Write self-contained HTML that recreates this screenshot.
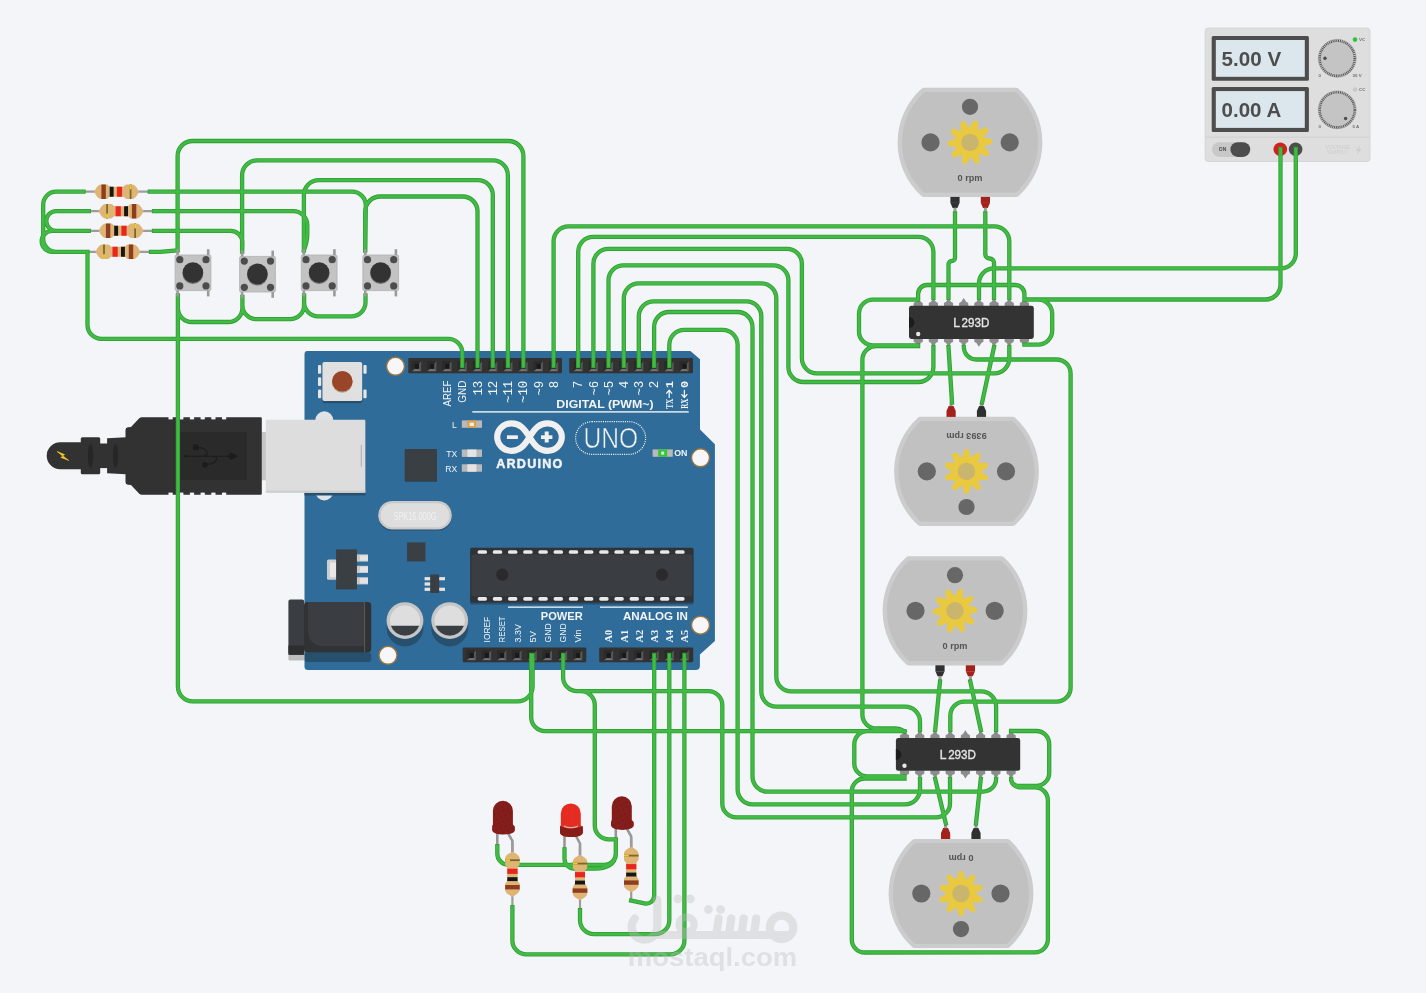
<!DOCTYPE html>
<html><head><meta charset="utf-8"><title>Circuit</title>
<style>
html,body{margin:0;padding:0;background:#f3f5f8;}
body{width:1426px;height:993px;overflow:hidden;font-family:"Liberation Sans",sans-serif;}
svg{display:block;font-family:"Liberation Sans",sans-serif;will-change:transform;}
</style></head><body>
<svg width="1426" height="993" viewBox="0 0 1426 993">
<rect width="1426" height="993" fill="#f3f5f8"/>
<g transform="translate(116.60 191.70) rotate(0.0)"><line x1="-32.5" y1="0" x2="32.5" y2="0" stroke="#9c9c9c" stroke-width="2.2"/><clipPath id="rc0"><path d="M-22.5 0 C-21.2 -2 -19.2 -7.2 -15.4 -7.2 L-10 -7.2 C-8.2 -7.2 -8.2 -5 -6.2 -5 L6.2 -5 C8.2 -5 8.2 -7.2 10 -7.2 L15.4 -7.2 C19.2 -7.2 21.2 -2 22.5 0 C21.2 2 19.2 7.2 15.4 7.2 L10 7.2 C8.2 7.2 8.2 5 6.2 5 L-6.2 5 C-8.2 5 -8.2 7.2 -10 7.2 L-15.4 7.2 C-19.2 7.2 -21.2 2 -22.5 0Z"/></clipPath><path d="M-22.5 0 C-21.2 -2 -19.2 -7.2 -15.4 -7.2 L-10 -7.2 C-8.2 -7.2 -8.2 -5 -6.2 -5 L6.2 -5 C8.2 -5 8.2 -7.2 10 -7.2 L15.4 -7.2 C19.2 -7.2 21.2 -2 22.5 0 C21.2 2 19.2 7.2 15.4 7.2 L10 7.2 C8.2 7.2 8.2 5 6.2 5 L-6.2 5 C-8.2 5 -8.2 7.2 -10 7.2 L-15.4 7.2 C-19.2 7.2 -21.2 2 -22.5 0Z" fill="#deb577"/><g clip-path="url(#rc0)"><rect x="-15.2" y="-8" width="4.4" height="16" fill="#8e3e1f"/><rect x="-6.9" y="-8" width="3.9" height="16" fill="#161616"/><rect x="0.3" y="-8" width="5.2" height="16" fill="#e8261d"/><rect x="13.1" y="-8" width="1.8" height="16" fill="#7d6a1e"/><rect x="13.1" y="-7.2" width="1.8" height="4.8" fill="#e8d030"/></g></g>
<g transform="translate(121.10 211.20) rotate(180.0)"><line x1="-32.5" y1="0" x2="32.5" y2="0" stroke="#9c9c9c" stroke-width="2.2"/><clipPath id="rc1"><path d="M-22.5 0 C-21.2 -2 -19.2 -7.2 -15.4 -7.2 L-10 -7.2 C-8.2 -7.2 -8.2 -5 -6.2 -5 L6.2 -5 C8.2 -5 8.2 -7.2 10 -7.2 L15.4 -7.2 C19.2 -7.2 21.2 -2 22.5 0 C21.2 2 19.2 7.2 15.4 7.2 L10 7.2 C8.2 7.2 8.2 5 6.2 5 L-6.2 5 C-8.2 5 -8.2 7.2 -10 7.2 L-15.4 7.2 C-19.2 7.2 -21.2 2 -22.5 0Z"/></clipPath><path d="M-22.5 0 C-21.2 -2 -19.2 -7.2 -15.4 -7.2 L-10 -7.2 C-8.2 -7.2 -8.2 -5 -6.2 -5 L6.2 -5 C8.2 -5 8.2 -7.2 10 -7.2 L15.4 -7.2 C19.2 -7.2 21.2 -2 22.5 0 C21.2 2 19.2 7.2 15.4 7.2 L10 7.2 C8.2 7.2 8.2 5 6.2 5 L-6.2 5 C-8.2 5 -8.2 7.2 -10 7.2 L-15.4 7.2 C-19.2 7.2 -21.2 2 -22.5 0Z" fill="#deb577"/><g clip-path="url(#rc1)"><rect x="-15.2" y="-8" width="4.4" height="16" fill="#8e3e1f"/><rect x="-6.9" y="-8" width="3.9" height="16" fill="#161616"/><rect x="0.3" y="-8" width="5.2" height="16" fill="#e8261d"/><rect x="13.1" y="-8" width="1.8" height="16" fill="#7d6a1e"/><rect x="13.1" y="-7.2" width="1.8" height="4.8" fill="#e8d030"/></g></g>
<g transform="translate(121.10 230.80) rotate(0.0)"><line x1="-32.5" y1="0" x2="32.5" y2="0" stroke="#9c9c9c" stroke-width="2.2"/><clipPath id="rc2"><path d="M-22.5 0 C-21.2 -2 -19.2 -7.2 -15.4 -7.2 L-10 -7.2 C-8.2 -7.2 -8.2 -5 -6.2 -5 L6.2 -5 C8.2 -5 8.2 -7.2 10 -7.2 L15.4 -7.2 C19.2 -7.2 21.2 -2 22.5 0 C21.2 2 19.2 7.2 15.4 7.2 L10 7.2 C8.2 7.2 8.2 5 6.2 5 L-6.2 5 C-8.2 5 -8.2 7.2 -10 7.2 L-15.4 7.2 C-19.2 7.2 -21.2 2 -22.5 0Z"/></clipPath><path d="M-22.5 0 C-21.2 -2 -19.2 -7.2 -15.4 -7.2 L-10 -7.2 C-8.2 -7.2 -8.2 -5 -6.2 -5 L6.2 -5 C8.2 -5 8.2 -7.2 10 -7.2 L15.4 -7.2 C19.2 -7.2 21.2 -2 22.5 0 C21.2 2 19.2 7.2 15.4 7.2 L10 7.2 C8.2 7.2 8.2 5 6.2 5 L-6.2 5 C-8.2 5 -8.2 7.2 -10 7.2 L-15.4 7.2 C-19.2 7.2 -21.2 2 -22.5 0Z" fill="#deb577"/><g clip-path="url(#rc2)"><rect x="-15.2" y="-8" width="4.4" height="16" fill="#8e3e1f"/><rect x="-6.9" y="-8" width="3.9" height="16" fill="#161616"/><rect x="0.3" y="-8" width="5.2" height="16" fill="#e8261d"/><rect x="13.1" y="-8" width="1.8" height="16" fill="#7d6a1e"/><rect x="13.1" y="-7.2" width="1.8" height="4.8" fill="#e8d030"/></g></g>
<g transform="translate(118.00 251.80) rotate(180.0)"><line x1="-32.5" y1="0" x2="32.5" y2="0" stroke="#9c9c9c" stroke-width="2.2"/><clipPath id="rc3"><path d="M-22.5 0 C-21.2 -2 -19.2 -7.2 -15.4 -7.2 L-10 -7.2 C-8.2 -7.2 -8.2 -5 -6.2 -5 L6.2 -5 C8.2 -5 8.2 -7.2 10 -7.2 L15.4 -7.2 C19.2 -7.2 21.2 -2 22.5 0 C21.2 2 19.2 7.2 15.4 7.2 L10 7.2 C8.2 7.2 8.2 5 6.2 5 L-6.2 5 C-8.2 5 -8.2 7.2 -10 7.2 L-15.4 7.2 C-19.2 7.2 -21.2 2 -22.5 0Z"/></clipPath><path d="M-22.5 0 C-21.2 -2 -19.2 -7.2 -15.4 -7.2 L-10 -7.2 C-8.2 -7.2 -8.2 -5 -6.2 -5 L6.2 -5 C8.2 -5 8.2 -7.2 10 -7.2 L15.4 -7.2 C19.2 -7.2 21.2 -2 22.5 0 C21.2 2 19.2 7.2 15.4 7.2 L10 7.2 C8.2 7.2 8.2 5 6.2 5 L-6.2 5 C-8.2 5 -8.2 7.2 -10 7.2 L-15.4 7.2 C-19.2 7.2 -21.2 2 -22.5 0Z" fill="#deb577"/><g clip-path="url(#rc3)"><rect x="-15.2" y="-8" width="4.4" height="16" fill="#8e3e1f"/><rect x="-6.9" y="-8" width="3.9" height="16" fill="#161616"/><rect x="0.3" y="-8" width="5.2" height="16" fill="#e8261d"/><rect x="13.1" y="-8" width="1.8" height="16" fill="#7d6a1e"/><rect x="13.1" y="-7.2" width="1.8" height="4.8" fill="#e8d030"/></g></g>
<path d="M307 351 L690.4 351 L700 359.3 L700 429.4 L714.9 444.3 L714.9 641 L699.9 654.5 L699.9 666 Q699.9 670 695.5 670 L308 670 Q304.5 670 304.5 666.5 L304.5 354.5 Q304.5 351 307 351Z" fill="#2f6c99"/><circle cx="324.3" cy="420.3" r="9" fill="#dfe3e6"/><circle cx="324.3" cy="491.5" r="9" fill="#dfe3e6"/><rect x="304.5" y="421" width="60.9" height="74.5" fill="#27506f"/><rect x="261.8" y="432" width="5" height="48.3" fill="#c6c6c6"/><rect x="265.8" y="419.8" width="99.6" height="72.9" rx="1.2" fill="#dddddd"/><rect x="265.8" y="490.5" width="99.6" height="2.2" fill="#cfcfcf"/><line x1="361.3" y1="445" x2="361.3" y2="466.5" stroke="#9a9a9a" stroke-width="0.7"/><rect x="322.4" y="364.5" width="39.8" height="38.8" rx="2" fill="#27506f"/><rect x="318" y="364.9" width="3.2" height="8.8" rx="1" fill="#e6e6e6"/><rect x="318" y="377.2" width="3.2" height="8.8" rx="1" fill="#e6e6e6"/><rect x="318" y="389.4" width="3.2" height="8.8" rx="1" fill="#e6e6e6"/><rect x="363.4" y="364.9" width="3.2" height="8.8" rx="1" fill="#e6e6e6"/><rect x="363.4" y="389.4" width="3.2" height="8.8" rx="1" fill="#e6e6e6"/><rect x="322.4" y="361.9" width="39.8" height="39" rx="2" fill="#e0e0e0"/><circle cx="342.3" cy="382.4" r="10.3" fill="#b9a08a"/><circle cx="342.3" cy="381.2" r="10.3" fill="#99452a"/><circle cx="395.50" cy="366.30" r="9" fill="#f7f7f9" stroke="#9a7440" stroke-width="1.4"/><circle cx="700.50" cy="457.80" r="9" fill="#f7f7f9" stroke="#9a7440" stroke-width="1.4"/><circle cx="700.50" cy="625.20" r="9" fill="#f7f7f9" stroke="#9a7440" stroke-width="1.4"/><circle cx="388.00" cy="655.30" r="9" fill="#f7f7f9" stroke="#9a7440" stroke-width="1.4"/><rect x="408.30" y="358.10" width="153.70" height="15.20" rx="1.2" fill="#323232"/><rect x="411.90" y="361.00" width="9.30" height="10.20" fill="#2a2a2a"/><path d="M421.20 361.00 L421.20 371.20 L418.90 368.80 L418.90 363.90 Z" fill="#565858"/><path d="M411.90 371.20 L421.20 371.20 L418.90 368.80 L414.90 368.80 Z" fill="#6f7070"/><rect x="414.90" y="363.90" width="4" height="4.9" fill="#191919"/><rect x="427.12" y="361.00" width="9.30" height="10.20" fill="#2a2a2a"/><path d="M436.42 361.00 L436.42 371.20 L434.12 368.80 L434.12 363.90 Z" fill="#565858"/><path d="M427.12 371.20 L436.42 371.20 L434.12 368.80 L430.12 368.80 Z" fill="#6f7070"/><rect x="430.12" y="363.90" width="4" height="4.9" fill="#191919"/><rect x="442.34" y="361.00" width="9.30" height="10.20" fill="#2a2a2a"/><path d="M451.64 361.00 L451.64 371.20 L449.34 368.80 L449.34 363.90 Z" fill="#565858"/><path d="M442.34 371.20 L451.64 371.20 L449.34 368.80 L445.34 368.80 Z" fill="#6f7070"/><rect x="445.34" y="363.90" width="4" height="4.9" fill="#191919"/><rect x="457.56" y="361.00" width="9.30" height="10.20" fill="#2a2a2a"/><path d="M466.86 361.00 L466.86 371.20 L464.56 368.80 L464.56 363.90 Z" fill="#565858"/><path d="M457.56 371.20 L466.86 371.20 L464.56 368.80 L460.56 368.80 Z" fill="#6f7070"/><rect x="460.56" y="363.90" width="4" height="4.9" fill="#191919"/><rect x="472.78" y="361.00" width="9.30" height="10.20" fill="#2a2a2a"/><path d="M482.08 361.00 L482.08 371.20 L479.78 368.80 L479.78 363.90 Z" fill="#565858"/><path d="M472.78 371.20 L482.08 371.20 L479.78 368.80 L475.78 368.80 Z" fill="#6f7070"/><rect x="475.78" y="363.90" width="4" height="4.9" fill="#191919"/><rect x="488.00" y="361.00" width="9.30" height="10.20" fill="#2a2a2a"/><path d="M497.30 361.00 L497.30 371.20 L495.00 368.80 L495.00 363.90 Z" fill="#565858"/><path d="M488.00 371.20 L497.30 371.20 L495.00 368.80 L491.00 368.80 Z" fill="#6f7070"/><rect x="491.00" y="363.90" width="4" height="4.9" fill="#191919"/><rect x="503.22" y="361.00" width="9.30" height="10.20" fill="#2a2a2a"/><path d="M512.52 361.00 L512.52 371.20 L510.22 368.80 L510.22 363.90 Z" fill="#565858"/><path d="M503.22 371.20 L512.52 371.20 L510.22 368.80 L506.22 368.80 Z" fill="#6f7070"/><rect x="506.22" y="363.90" width="4" height="4.9" fill="#191919"/><rect x="518.44" y="361.00" width="9.30" height="10.20" fill="#2a2a2a"/><path d="M527.74 361.00 L527.74 371.20 L525.44 368.80 L525.44 363.90 Z" fill="#565858"/><path d="M518.44 371.20 L527.74 371.20 L525.44 368.80 L521.44 368.80 Z" fill="#6f7070"/><rect x="521.44" y="363.90" width="4" height="4.9" fill="#191919"/><rect x="533.66" y="361.00" width="9.30" height="10.20" fill="#2a2a2a"/><path d="M542.96 361.00 L542.96 371.20 L540.66 368.80 L540.66 363.90 Z" fill="#565858"/><path d="M533.66 371.20 L542.96 371.20 L540.66 368.80 L536.66 368.80 Z" fill="#6f7070"/><rect x="536.66" y="363.90" width="4" height="4.9" fill="#191919"/><rect x="548.88" y="361.00" width="9.30" height="10.20" fill="#2a2a2a"/><path d="M558.18 361.00 L558.18 371.20 L555.88 368.80 L555.88 363.90 Z" fill="#565858"/><path d="M548.88 371.20 L558.18 371.20 L555.88 368.80 L551.88 368.80 Z" fill="#6f7070"/><rect x="551.88" y="363.90" width="4" height="4.9" fill="#191919"/><rect x="569.20" y="358.10" width="123.80" height="15.20" rx="1.2" fill="#323232"/><rect x="573.50" y="361.00" width="9.30" height="10.20" fill="#2a2a2a"/><path d="M582.80 361.00 L582.80 371.20 L580.50 368.80 L580.50 363.90 Z" fill="#565858"/><path d="M573.50 371.20 L582.80 371.20 L580.50 368.80 L576.50 368.80 Z" fill="#6f7070"/><rect x="576.50" y="363.90" width="4" height="4.9" fill="#191919"/><rect x="588.65" y="361.00" width="9.30" height="10.20" fill="#2a2a2a"/><path d="M597.95 361.00 L597.95 371.20 L595.65 368.80 L595.65 363.90 Z" fill="#565858"/><path d="M588.65 371.20 L597.95 371.20 L595.65 368.80 L591.65 368.80 Z" fill="#6f7070"/><rect x="591.65" y="363.90" width="4" height="4.9" fill="#191919"/><rect x="603.80" y="361.00" width="9.30" height="10.20" fill="#2a2a2a"/><path d="M613.10 361.00 L613.10 371.20 L610.80 368.80 L610.80 363.90 Z" fill="#565858"/><path d="M603.80 371.20 L613.10 371.20 L610.80 368.80 L606.80 368.80 Z" fill="#6f7070"/><rect x="606.80" y="363.90" width="4" height="4.9" fill="#191919"/><rect x="618.95" y="361.00" width="9.30" height="10.20" fill="#2a2a2a"/><path d="M628.25 361.00 L628.25 371.20 L625.95 368.80 L625.95 363.90 Z" fill="#565858"/><path d="M618.95 371.20 L628.25 371.20 L625.95 368.80 L621.95 368.80 Z" fill="#6f7070"/><rect x="621.95" y="363.90" width="4" height="4.9" fill="#191919"/><rect x="634.10" y="361.00" width="9.30" height="10.20" fill="#2a2a2a"/><path d="M643.40 361.00 L643.40 371.20 L641.10 368.80 L641.10 363.90 Z" fill="#565858"/><path d="M634.10 371.20 L643.40 371.20 L641.10 368.80 L637.10 368.80 Z" fill="#6f7070"/><rect x="637.10" y="363.90" width="4" height="4.9" fill="#191919"/><rect x="649.25" y="361.00" width="9.30" height="10.20" fill="#2a2a2a"/><path d="M658.55 361.00 L658.55 371.20 L656.25 368.80 L656.25 363.90 Z" fill="#565858"/><path d="M649.25 371.20 L658.55 371.20 L656.25 368.80 L652.25 368.80 Z" fill="#6f7070"/><rect x="652.25" y="363.90" width="4" height="4.9" fill="#191919"/><rect x="664.40" y="361.00" width="9.30" height="10.20" fill="#2a2a2a"/><path d="M673.70 361.00 L673.70 371.20 L671.40 368.80 L671.40 363.90 Z" fill="#565858"/><path d="M664.40 371.20 L673.70 371.20 L671.40 368.80 L667.40 368.80 Z" fill="#6f7070"/><rect x="667.40" y="363.90" width="4" height="4.9" fill="#191919"/><rect x="679.55" y="361.00" width="9.30" height="10.20" fill="#2a2a2a"/><path d="M688.85 361.00 L688.85 371.20 L686.55 368.80 L686.55 363.90 Z" fill="#565858"/><path d="M679.55 371.20 L688.85 371.20 L686.55 368.80 L682.55 368.80 Z" fill="#6f7070"/><rect x="682.55" y="363.90" width="4" height="4.9" fill="#191919"/><rect x="462.70" y="647.40" width="123.60" height="14.80" rx="1.2" fill="#323232"/><rect x="466.70" y="650.10" width="9.30" height="10.20" fill="#2a2a2a"/><path d="M476.00 650.10 L476.00 660.30 L473.70 657.90 L473.70 653.00 Z" fill="#565858"/><path d="M466.70 660.30 L476.00 660.30 L473.70 657.90 L469.70 657.90 Z" fill="#6f7070"/><rect x="469.70" y="653.00" width="4" height="4.9" fill="#191919"/><rect x="481.90" y="650.10" width="9.30" height="10.20" fill="#2a2a2a"/><path d="M491.20 650.10 L491.20 660.30 L488.90 657.90 L488.90 653.00 Z" fill="#565858"/><path d="M481.90 660.30 L491.20 660.30 L488.90 657.90 L484.90 657.90 Z" fill="#6f7070"/><rect x="484.90" y="653.00" width="4" height="4.9" fill="#191919"/><rect x="497.10" y="650.10" width="9.30" height="10.20" fill="#2a2a2a"/><path d="M506.40 650.10 L506.40 660.30 L504.10 657.90 L504.10 653.00 Z" fill="#565858"/><path d="M497.10 660.30 L506.40 660.30 L504.10 657.90 L500.10 657.90 Z" fill="#6f7070"/><rect x="500.10" y="653.00" width="4" height="4.9" fill="#191919"/><rect x="512.30" y="650.10" width="9.30" height="10.20" fill="#2a2a2a"/><path d="M521.60 650.10 L521.60 660.30 L519.30 657.90 L519.30 653.00 Z" fill="#565858"/><path d="M512.30 660.30 L521.60 660.30 L519.30 657.90 L515.30 657.90 Z" fill="#6f7070"/><rect x="515.30" y="653.00" width="4" height="4.9" fill="#191919"/><rect x="527.50" y="650.10" width="9.30" height="10.20" fill="#2a2a2a"/><path d="M536.80 650.10 L536.80 660.30 L534.50 657.90 L534.50 653.00 Z" fill="#565858"/><path d="M527.50 660.30 L536.80 660.30 L534.50 657.90 L530.50 657.90 Z" fill="#6f7070"/><rect x="530.50" y="653.00" width="4" height="4.9" fill="#191919"/><rect x="542.70" y="650.10" width="9.30" height="10.20" fill="#2a2a2a"/><path d="M552.00 650.10 L552.00 660.30 L549.70 657.90 L549.70 653.00 Z" fill="#565858"/><path d="M542.70 660.30 L552.00 660.30 L549.70 657.90 L545.70 657.90 Z" fill="#6f7070"/><rect x="545.70" y="653.00" width="4" height="4.9" fill="#191919"/><rect x="557.90" y="650.10" width="9.30" height="10.20" fill="#2a2a2a"/><path d="M567.20 650.10 L567.20 660.30 L564.90 657.90 L564.90 653.00 Z" fill="#565858"/><path d="M557.90 660.30 L567.20 660.30 L564.90 657.90 L560.90 657.90 Z" fill="#6f7070"/><rect x="560.90" y="653.00" width="4" height="4.9" fill="#191919"/><rect x="573.10" y="650.10" width="9.30" height="10.20" fill="#2a2a2a"/><path d="M582.40 650.10 L582.40 660.30 L580.10 657.90 L580.10 653.00 Z" fill="#565858"/><path d="M573.10 660.30 L582.40 660.30 L580.10 657.90 L576.10 657.90 Z" fill="#6f7070"/><rect x="576.10" y="653.00" width="4" height="4.9" fill="#191919"/><rect x="599.20" y="647.40" width="94.00" height="14.80" rx="1.2" fill="#323232"/><rect x="603.80" y="650.10" width="9.30" height="10.20" fill="#2a2a2a"/><path d="M613.10 650.10 L613.10 660.30 L610.80 657.90 L610.80 653.00 Z" fill="#565858"/><path d="M603.80 660.30 L613.10 660.30 L610.80 657.90 L606.80 657.90 Z" fill="#6f7070"/><rect x="606.80" y="653.00" width="4" height="4.9" fill="#191919"/><rect x="619.10" y="650.10" width="9.30" height="10.20" fill="#2a2a2a"/><path d="M628.40 650.10 L628.40 660.30 L626.10 657.90 L626.10 653.00 Z" fill="#565858"/><path d="M619.10 660.30 L628.40 660.30 L626.10 657.90 L622.10 657.90 Z" fill="#6f7070"/><rect x="622.10" y="653.00" width="4" height="4.9" fill="#191919"/><rect x="634.10" y="650.10" width="9.30" height="10.20" fill="#2a2a2a"/><path d="M643.40 650.10 L643.40 660.30 L641.10 657.90 L641.10 653.00 Z" fill="#565858"/><path d="M634.10 660.30 L643.40 660.30 L641.10 657.90 L637.10 657.90 Z" fill="#6f7070"/><rect x="637.10" y="653.00" width="4" height="4.9" fill="#191919"/><rect x="649.40" y="650.10" width="9.30" height="10.20" fill="#2a2a2a"/><path d="M658.70 650.10 L658.70 660.30 L656.40 657.90 L656.40 653.00 Z" fill="#565858"/><path d="M649.40 660.30 L658.70 660.30 L656.40 657.90 L652.40 657.90 Z" fill="#6f7070"/><rect x="652.40" y="653.00" width="4" height="4.9" fill="#191919"/><rect x="664.60" y="650.10" width="9.30" height="10.20" fill="#2a2a2a"/><path d="M673.90 650.10 L673.90 660.30 L671.60 657.90 L671.60 653.00 Z" fill="#565858"/><path d="M664.60 660.30 L673.90 660.30 L671.60 657.90 L667.60 657.90 Z" fill="#6f7070"/><rect x="667.60" y="653.00" width="4" height="4.9" fill="#191919"/><rect x="679.60" y="650.10" width="9.30" height="10.20" fill="#2a2a2a"/><path d="M688.90 650.10 L688.90 660.30 L686.60 657.90 L686.60 653.00 Z" fill="#565858"/><path d="M679.60 660.30 L688.90 660.30 L686.60 657.90 L682.60 657.90 Z" fill="#6f7070"/><rect x="682.60" y="653.00" width="4" height="4.9" fill="#191919"/><text transform="translate(451.04 380.70) rotate(-90)" text-anchor="end" font-size="10.0" font-weight="normal" font-family="Liberation Sans, sans-serif" fill="#f2f4f6" textLength="25.7" lengthAdjust="spacingAndGlyphs">AREF</text><text transform="translate(466.26 380.70) rotate(-90)" text-anchor="end" font-size="10.0" font-weight="normal" font-family="Liberation Sans, sans-serif" fill="#f2f4f6" textLength="22.0" lengthAdjust="spacingAndGlyphs">GND</text><text transform="translate(481.68 380.70) rotate(-90)" text-anchor="end" font-size="12.4" font-weight="normal" font-family="Liberation Mono, sans-serif" fill="#f2f4f6">13</text><text transform="translate(496.90 380.70) rotate(-90)" text-anchor="end" font-size="12.4" font-weight="normal" font-family="Liberation Mono, sans-serif" fill="#f2f4f6">12</text><text transform="translate(512.12 380.70) rotate(-90)" text-anchor="end" font-size="12.4" font-weight="normal" font-family="Liberation Mono, sans-serif" fill="#f2f4f6">~11</text><text transform="translate(527.34 380.70) rotate(-90)" text-anchor="end" font-size="12.4" font-weight="normal" font-family="Liberation Mono, sans-serif" fill="#f2f4f6">~10</text><text transform="translate(542.56 380.70) rotate(-90)" text-anchor="end" font-size="12.4" font-weight="normal" font-family="Liberation Mono, sans-serif" fill="#f2f4f6">~9</text><text transform="translate(557.78 380.70) rotate(-90)" text-anchor="end" font-size="12.4" font-weight="normal" font-family="Liberation Mono, sans-serif" fill="#f2f4f6">8</text><text transform="translate(582.40 380.70) rotate(-90)" text-anchor="end" font-size="12.4" font-weight="normal" font-family="Liberation Mono, sans-serif" fill="#f2f4f6">7</text><text transform="translate(597.55 380.70) rotate(-90)" text-anchor="end" font-size="12.4" font-weight="normal" font-family="Liberation Mono, sans-serif" fill="#f2f4f6">~6</text><text transform="translate(612.70 380.70) rotate(-90)" text-anchor="end" font-size="12.4" font-weight="normal" font-family="Liberation Mono, sans-serif" fill="#f2f4f6">~5</text><text transform="translate(627.85 380.70) rotate(-90)" text-anchor="end" font-size="12.4" font-weight="normal" font-family="Liberation Mono, sans-serif" fill="#f2f4f6">4</text><text transform="translate(643.00 380.70) rotate(-90)" text-anchor="end" font-size="12.4" font-weight="normal" font-family="Liberation Mono, sans-serif" fill="#f2f4f6">~3</text><text transform="translate(658.15 380.70) rotate(-90)" text-anchor="end" font-size="12.4" font-weight="normal" font-family="Liberation Mono, sans-serif" fill="#f2f4f6">2</text><text transform="translate(672.90 380.90) rotate(-90)" text-anchor="end" font-size="11.8" font-weight="bold" font-family="Liberation Mono, sans-serif" fill="#f2f4f6">1</text><text transform="translate(672.50 398.60) rotate(-90)" text-anchor="end" font-size="10.4" font-weight="bold" font-family="Liberation Serif, sans-serif" fill="#f2f4f6" textLength="10.2" lengthAdjust="spacingAndGlyphs">TX</text><path d="M669.20 397.4 L669.20 390.4 M666.70 393.2 L669.20 390.2 L671.70 393.2" fill="none" stroke="#f2f4f6" stroke-width="1.3" stroke-linecap="round" stroke-linejoin="round"/><text transform="translate(688.05 380.90) rotate(-90)" text-anchor="end" font-size="11.8" font-weight="bold" font-family="Liberation Mono, sans-serif" fill="#f2f4f6">0</text><text transform="translate(687.65 398.60) rotate(-90)" text-anchor="end" font-size="10.4" font-weight="bold" font-family="Liberation Serif, sans-serif" fill="#f2f4f6" textLength="10.2" lengthAdjust="spacingAndGlyphs">RX</text><path d="M684.35 390.4 L684.35 397.4 M681.85 394.6 L684.35 397.6 L686.85 394.6" fill="none" stroke="#f2f4f6" stroke-width="1.3" stroke-linecap="round" stroke-linejoin="round"/><text x="653.6" y="407.7" text-anchor="end" font-size="11.4" font-weight="bold" fill="#f2f4f6" textLength="97.3" lengthAdjust="spacingAndGlyphs">DIGITAL (PWM~)</text><rect x="472.3" y="411.2" width="216.4" height="1.4" fill="#f2f4f6"/><rect x="461.80" y="420.40" width="20.2" height="7.4" fill="#b9b9b9"/><rect x="467.40" y="420.40" width="9" height="7.4" fill="#d9a24e"/><rect x="469.6" y="422.6" width="4.4" height="3.4" fill="#f4ead8"/><rect x="461.80" y="449.50" width="20.2" height="7.4" fill="#b9b9b9"/><rect x="467.40" y="449.50" width="9" height="7.4" fill="#e4e4e4"/><rect x="461.80" y="464.30" width="20.2" height="7.4" fill="#b9b9b9"/><rect x="467.40" y="464.30" width="9" height="7.4" fill="#e4e4e4"/><text x="456.8" y="428.3" text-anchor="end" font-size="8.6" fill="#f2f4f6">L</text><text x="457.2" y="457.2" text-anchor="end" font-size="8.6" fill="#f2f4f6">TX</text><text x="457.2" y="472" text-anchor="end" font-size="8.6" fill="#f2f4f6">RX</text><rect x="652.60" y="449.40" width="20.2" height="7.4" fill="#b9b9b9"/><rect x="658.20" y="449.40" width="9" height="7.4" fill="#35c43a"/><rect x="661.2" y="451.6" width="3" height="3" fill="#d8f5d8"/><text x="674.2" y="455.9" font-size="8.8" font-weight="bold" fill="#f2f4f6">ON</text><rect x="404.8" y="449.8" width="32.2" height="32.2" fill="#27506f"/><rect x="404.8" y="449" width="32.2" height="32.2" fill="#3a3f43"/><path d="M529.5 437.1 C524 428 519.5 423.4 511.6 423.4 C503.4 423.4 497.2 429.6 497.2 437.1 C497.2 444.6 503.4 450.8 511.6 450.8 C519.5 450.8 524 446.2 529.5 437.1 C535 428 539.5 423.4 547.4 423.4 C555.6 423.4 561.8 429.6 561.8 437.1 C561.8 444.6 555.6 450.8 547.4 450.8 C539.5 450.8 535 446.2 529.5 437.1Z" fill="none" stroke="#f0f0f0" stroke-width="6.2"/><rect x="506.9" y="435.3" width="11" height="3.7" fill="#f0f0f0"/><rect x="541" y="435.3" width="11.4" height="3.7" fill="#f0f0f0"/><rect x="544.7" y="431.5" width="4" height="11" fill="#f0f0f0"/><text x="496.2" y="468" font-size="12.6" font-weight="bold" fill="#f2f4f6" stroke="#f2f4f6" stroke-width="0.45" textLength="66.2" lengthAdjust="spacing">ARDUINO</text><rect x="575.6" y="421.7" width="70" height="32.6" rx="16.3" fill="none" stroke="#f2f4f6" stroke-width="1.2" stroke-dasharray="1.1 1.1"/><text x="610.9" y="447.9" text-anchor="middle" font-size="29.3" fill="#f2f4f6" stroke="#2f6c99" stroke-width="0.55" textLength="54.7" lengthAdjust="spacingAndGlyphs">UNO</text><rect x="378.2" y="502" width="73.6" height="28.6" rx="14.3" fill="#27506f"/><rect x="378.2" y="500.9" width="73.6" height="28.6" rx="14.3" fill="#c9c9c9"/><rect x="380.6" y="503.2" width="68.8" height="24" rx="12" fill="#dedede"/><text x="415" y="519.6" text-anchor="middle" font-size="10.4" fill="#f1f1f1" textLength="43" lengthAdjust="spacingAndGlyphs">SPK16.000G</text><rect x="327" y="559.6" width="10" height="20.2" rx="1.5" fill="#cfcfcf"/><rect x="330" y="562.5" width="6.5" height="14.5" fill="#e8e8e8"/><rect x="356.5" y="554.4" width="11.5" height="7.2" fill="#c9c9c9"/><rect x="360" y="555.3" width="8" height="5.4" fill="#e4e4e4"/><rect x="356.5" y="565.8" width="11.5" height="7.2" fill="#c9c9c9"/><rect x="360" y="566.7" width="8" height="5.4" fill="#e4e4e4"/><rect x="356.5" y="577.2" width="11.5" height="7.2" fill="#c9c9c9"/><rect x="360" y="578.1" width="8" height="5.4" fill="#e4e4e4"/><rect x="336.1" y="549.4" width="20.8" height="40" fill="#3a3f43"/><rect x="407.1" y="542.4" width="18.4" height="19" fill="#3a3f43"/><rect x="424.6" y="577.1" width="6" height="3.2" fill="#e4e4e4"/><rect x="424.6" y="582.4" width="6" height="3.2" fill="#e4e4e4"/><rect x="424.6" y="587.7" width="6" height="3.2" fill="#e4e4e4"/><rect x="439" y="577.1" width="6" height="3.2" fill="#e4e4e4"/><rect x="439" y="587.7" width="6" height="3.2" fill="#e4e4e4"/><rect x="430.2" y="574.5" width="9" height="18.4" fill="#3a3f43"/><circle cx="405.0" cy="628" r="18.4" fill="#27506f"/><circle cx="405.0" cy="620.6" r="18.4" fill="#c6c6c6"/><circle cx="405.0" cy="620.6" r="15.1" fill="#dedede"/><path d="M419.18 625.8 A15.1 15.1 0 0 1 390.82 625.8 Z" fill="#3a3f43"/><circle cx="449.7" cy="628" r="18.4" fill="#27506f"/><circle cx="449.7" cy="620.6" r="18.4" fill="#c6c6c6"/><circle cx="449.7" cy="620.6" r="15.1" fill="#dedede"/><path d="M463.88 625.8 A15.1 15.1 0 0 1 435.52 625.8 Z" fill="#3a3f43"/><rect x="470.2" y="549" width="223.3" height="55.5" rx="1.5" fill="#27506f"/><rect x="470.2" y="547.8" width="223.3" height="54.8" rx="1.5" fill="#303336"/><rect x="471.4" y="554.6" width="221" height="41.6" rx="2" fill="#3a3e42"/><rect x="477.60" y="550.2" width="9.4" height="3.6" rx="1.6" fill="#e9e9e9"/><rect x="477.60" y="597.1" width="9.4" height="3.6" rx="1.6" fill="#e9e9e9"/><rect x="492.80" y="550.2" width="9.4" height="3.6" rx="1.6" fill="#e9e9e9"/><rect x="492.80" y="597.1" width="9.4" height="3.6" rx="1.6" fill="#e9e9e9"/><rect x="508.00" y="550.2" width="9.4" height="3.6" rx="1.6" fill="#e9e9e9"/><rect x="508.00" y="597.1" width="9.4" height="3.6" rx="1.6" fill="#e9e9e9"/><rect x="523.20" y="550.2" width="9.4" height="3.6" rx="1.6" fill="#e9e9e9"/><rect x="523.20" y="597.1" width="9.4" height="3.6" rx="1.6" fill="#e9e9e9"/><rect x="538.40" y="550.2" width="9.4" height="3.6" rx="1.6" fill="#e9e9e9"/><rect x="538.40" y="597.1" width="9.4" height="3.6" rx="1.6" fill="#e9e9e9"/><rect x="553.60" y="550.2" width="9.4" height="3.6" rx="1.6" fill="#e9e9e9"/><rect x="553.60" y="597.1" width="9.4" height="3.6" rx="1.6" fill="#e9e9e9"/><rect x="568.80" y="550.2" width="9.4" height="3.6" rx="1.6" fill="#e9e9e9"/><rect x="568.80" y="597.1" width="9.4" height="3.6" rx="1.6" fill="#e9e9e9"/><rect x="584.00" y="550.2" width="9.4" height="3.6" rx="1.6" fill="#e9e9e9"/><rect x="584.00" y="597.1" width="9.4" height="3.6" rx="1.6" fill="#e9e9e9"/><rect x="599.20" y="550.2" width="9.4" height="3.6" rx="1.6" fill="#e9e9e9"/><rect x="599.20" y="597.1" width="9.4" height="3.6" rx="1.6" fill="#e9e9e9"/><rect x="614.40" y="550.2" width="9.4" height="3.6" rx="1.6" fill="#e9e9e9"/><rect x="614.40" y="597.1" width="9.4" height="3.6" rx="1.6" fill="#e9e9e9"/><rect x="629.60" y="550.2" width="9.4" height="3.6" rx="1.6" fill="#e9e9e9"/><rect x="629.60" y="597.1" width="9.4" height="3.6" rx="1.6" fill="#e9e9e9"/><rect x="644.80" y="550.2" width="9.4" height="3.6" rx="1.6" fill="#e9e9e9"/><rect x="644.80" y="597.1" width="9.4" height="3.6" rx="1.6" fill="#e9e9e9"/><rect x="660.00" y="550.2" width="9.4" height="3.6" rx="1.6" fill="#e9e9e9"/><rect x="660.00" y="597.1" width="9.4" height="3.6" rx="1.6" fill="#e9e9e9"/><rect x="675.20" y="550.2" width="9.4" height="3.6" rx="1.6" fill="#e9e9e9"/><rect x="675.20" y="597.1" width="9.4" height="3.6" rx="1.6" fill="#e9e9e9"/><circle cx="502.3" cy="574.7" r="6.1" fill="#282a2c"/><circle cx="662" cy="574.7" r="6.1" fill="#282a2c"/><rect x="508" y="606.5" width="75" height="1.3" fill="#f2f4f6"/><rect x="600" y="606.5" width="87.8" height="1.3" fill="#f2f4f6"/><text x="582.8" y="619.7" text-anchor="end" font-size="10.3" font-weight="bold" fill="#f2f4f6" textLength="42" lengthAdjust="spacingAndGlyphs">POWER</text><text x="687.9" y="619.7" text-anchor="end" font-size="10.3" font-weight="bold" fill="#f2f4f6" textLength="65" lengthAdjust="spacingAndGlyphs">ANALOG IN</text><text transform="translate(490.10 642.40) rotate(-90)" text-anchor="start" font-size="8.9" font-weight="normal" font-family="Liberation Sans, sans-serif" fill="#f2f4f6" textLength="25.5" lengthAdjust="spacingAndGlyphs">IOREF</text><text transform="translate(505.30 642.40) rotate(-90)" text-anchor="start" font-size="8.9" font-weight="normal" font-family="Liberation Sans, sans-serif" fill="#f2f4f6" textLength="26.0" lengthAdjust="spacingAndGlyphs">RESET</text><text transform="translate(520.50 642.40) rotate(-90)" text-anchor="start" font-size="8.9" font-weight="normal" font-family="Liberation Sans, sans-serif" fill="#f2f4f6" textLength="18.2" lengthAdjust="spacingAndGlyphs">3.3V</text><text transform="translate(535.70 642.40) rotate(-90)" text-anchor="start" font-size="8.9" font-weight="normal" font-family="Liberation Sans, sans-serif" fill="#f2f4f6" textLength="11.4" lengthAdjust="spacingAndGlyphs">5V</text><text transform="translate(550.90 642.40) rotate(-90)" text-anchor="start" font-size="8.9" font-weight="normal" font-family="Liberation Sans, sans-serif" fill="#f2f4f6" textLength="19.1" lengthAdjust="spacingAndGlyphs">GND</text><text transform="translate(566.10 642.40) rotate(-90)" text-anchor="start" font-size="8.9" font-weight="normal" font-family="Liberation Sans, sans-serif" fill="#f2f4f6" textLength="19.1" lengthAdjust="spacingAndGlyphs">GND</text><text transform="translate(581.30 642.40) rotate(-90)" text-anchor="start" font-size="8.9" font-weight="normal" font-family="Liberation Sans, sans-serif" fill="#f2f4f6" textLength="13.0" lengthAdjust="spacingAndGlyphs">Vin</text><text transform="translate(612.30 642.60) rotate(-90)" text-anchor="start" font-size="10.4" font-weight="bold" font-family="Liberation Serif, sans-serif" fill="#f2f4f6">A0</text><text transform="translate(627.60 642.60) rotate(-90)" text-anchor="start" font-size="10.4" font-weight="bold" font-family="Liberation Serif, sans-serif" fill="#f2f4f6">A1</text><text transform="translate(642.60 642.60) rotate(-90)" text-anchor="start" font-size="10.4" font-weight="bold" font-family="Liberation Serif, sans-serif" fill="#f2f4f6">A2</text><text transform="translate(657.90 642.60) rotate(-90)" text-anchor="start" font-size="10.4" font-weight="bold" font-family="Liberation Serif, sans-serif" fill="#f2f4f6">A3</text><text transform="translate(673.10 642.60) rotate(-90)" text-anchor="start" font-size="10.4" font-weight="bold" font-family="Liberation Serif, sans-serif" fill="#f2f4f6">A4</text><text transform="translate(688.10 642.60) rotate(-90)" text-anchor="start" font-size="10.4" font-weight="bold" font-family="Liberation Serif, sans-serif" fill="#f2f4f6">A5</text><rect x="304.5" y="652" width="66.7" height="10" rx="3" fill="#27506f"/><rect x="288.4" y="654" width="15.8" height="6.6" rx="1.5" fill="#bdbdbd"/><rect x="288.4" y="599.6" width="15.8" height="55.2" rx="2" fill="#3a3e42"/><rect x="288.4" y="645.5" width="15.8" height="9.3" fill="#2c2e30"/><rect x="304" y="602" width="67.2" height="50.2" rx="3.5" fill="#303234"/><path d="M308 602 L364.5 602 L364.5 646 L324 646 Q308 646 308 630Z" fill="#3a3e42"/><line x1="364.6" y1="602" x2="364.6" y2="652" stroke="#6a6a6a" stroke-width="0.7"/>
<path d="M60.2 442.2 L82 442.2 L82 469.2 L60.2 469.2 A13.5 13.5 0 0 1 60.2 442.2Z" fill="#323232"/><path d="M57 451.4 L64.6 454.6 L62.8 455.8 L68.8 460.4 L60.8 457.4 L62.8 456.2Z" fill="#f0c828" stroke="#f0c828" stroke-width="0.6"/><rect x="80.8" y="437.3" width="19.4" height="36.9" rx="1.5" fill="#323232"/><rect x="99" y="443.5" width="10" height="24.6" fill="#323232"/><path d="M107.1 438.3 L126 437.3 L126 474.2 L107.1 473.2Z" fill="#323232"/><ellipse cx="90.5" cy="455.7" rx="2.6" ry="12" fill="#262626"/><ellipse cx="115.5" cy="455.7" rx="2.6" ry="12" fill="#262626"/><path d="M125.5 430 Q125.5 427.4 128 427.2 L131 427 L139.5 418 Q140.5 417.2 142 417.2 L260.8 417.2 Q261.8 417.2 261.8 418.2 L261.8 493.7 Q261.8 494.7 260.8 494.7 L142 494.7 Q140.5 494.7 139.5 493.9 L131 485 L128 484.8 Q125.5 484.6 125.5 482Z" fill="#323232"/><rect x="168.5" y="416.8" width="4.2" height="2.6" fill="#f3f5f8"/><rect x="168.5" y="492.6" width="4.2" height="2.6" fill="#f3f5f8"/><rect x="179.2" y="416.8" width="4.2" height="2.6" fill="#f3f5f8"/><rect x="179.2" y="492.6" width="4.2" height="2.6" fill="#f3f5f8"/><rect x="189.9" y="416.8" width="4.2" height="2.6" fill="#f3f5f8"/><rect x="189.9" y="492.6" width="4.2" height="2.6" fill="#f3f5f8"/><rect x="200.6" y="416.8" width="4.2" height="2.6" fill="#f3f5f8"/><rect x="200.6" y="492.6" width="4.2" height="2.6" fill="#f3f5f8"/><rect x="211.3" y="416.8" width="4.2" height="2.6" fill="#f3f5f8"/><rect x="211.3" y="492.6" width="4.2" height="2.6" fill="#f3f5f8"/><rect x="222.0" y="416.8" width="4.2" height="2.6" fill="#f3f5f8"/><rect x="222.0" y="492.6" width="4.2" height="2.6" fill="#f3f5f8"/><rect x="179.9" y="432.1" width="67" height="47.7" fill="#2a2a2a"/><g stroke="#1c1c1c" fill="none" stroke-width="1.1"><line x1="184" y1="456.3" x2="232" y2="456.3"/><path d="M203 456.3 C210 456.3 208 447.5 198 447.5"/><path d="M213 456.3 C220 456.3 216 464.5 206 464.5"/></g><path d="M231 452.5 L238 456.3 L231 460.1 L227.5 456.3Z" fill="#1c1c1c"/><rect x="193" y="444.5" width="5.5" height="5.5" fill="#1c1c1c"/><circle cx="205" cy="464.8" r="2.8" fill="#1c1c1c"/><path d="M183 456.3 l4 -2 v4z" fill="#1c1c1c"/>
<rect x="1205.2" y="28" width="164.8" height="133.5" rx="3" fill="#dedede" stroke="#d0d0d0" stroke-width="0.8"/><line x1="1205.5" y1="137.2" x2="1369.7" y2="137.2" stroke="#cfcfcf" stroke-width="1"/><rect x="1211.7" y="36.0" width="97.2" height="44.8" rx="1.5" fill="#4d4d4d"/><rect x="1215.8" y="40.0" width="89" height="36.8" fill="#dce7ed"/><text x="1221.6" y="65.7" font-size="20.2" font-weight="bold" fill="#4d4d4d" textLength="59.6" lengthAdjust="spacingAndGlyphs">5.00 V</text><rect x="1211.7" y="87.1" width="97.2" height="44.8" rx="1.5" fill="#4d4d4d"/><rect x="1215.8" y="91.1" width="89" height="36.8" fill="#dce7ed"/><text x="1221.6" y="116.8" font-size="20.2" font-weight="bold" fill="#4d4d4d" textLength="59.6" lengthAdjust="spacingAndGlyphs">0.00 A</text><circle cx="1337.2" cy="58.3" r="17.6" fill="#c4c4c4" stroke="#5a5a5a" stroke-width="2.6" stroke-dasharray="1.1 0.75"/><circle cx="1337.2" cy="58.3" r="18.9" fill="none" stroke="#8a8a8a" stroke-width="0.5"/><circle cx="1325.0" cy="58.3" r="1.7" fill="#4d4d4d"/><circle cx="1337.2" cy="109.8" r="17.6" fill="#c4c4c4" stroke="#5a5a5a" stroke-width="2.6" stroke-dasharray="1.1 0.75"/><circle cx="1337.2" cy="109.8" r="18.9" fill="none" stroke="#8a8a8a" stroke-width="0.5"/><circle cx="1345.6" cy="118.5" r="1.7" fill="#4d4d4d"/><circle cx="1355" cy="39.6" r="2.3" fill="#2fc43a"/><circle cx="1355" cy="89.6" r="2.3" fill="#c9c9c9"/><text x="1359" y="41.4" font-size="4.4" font-weight="bold" fill="#707070">VC</text><text x="1359" y="91.4" font-size="4.4" font-weight="bold" fill="#707070">CC</text><text x="1318.4" y="76.8" font-size="4.4" font-weight="bold" fill="#707070">0</text><text x="1352.6" y="76.8" font-size="4.4" font-weight="bold" fill="#707070">30 V</text><text x="1318.4" y="127.8" font-size="4.4" font-weight="bold" fill="#707070">0</text><text x="1352.6" y="127.8" font-size="4.4" font-weight="bold" fill="#707070">5 A</text><rect x="1212" y="142.2" width="38.2" height="14.7" rx="7.35" fill="#c8c8c8"/><rect x="1230.4" y="142.2" width="19.8" height="14.7" rx="7.35" fill="#4d4d4d"/><text x="1218.8" y="151.4" font-size="5" font-weight="bold" fill="#4d4d4d">ON</text><circle cx="1280.3" cy="149.2" r="6.8" fill="#d2201c"/><circle cx="1295.6" cy="149.2" r="6.8" fill="#4d4d4d"/><text x="1337.5" y="148.6" text-anchor="middle" font-size="5.4" fill="#cccccc">VOLTAGE</text><text x="1337.5" y="154.2" text-anchor="middle" font-size="5.4" fill="#cccccc">SUPPLY</text><path d="M1360.5 144.4 L1355.6 151 L1358.2 151 L1356.4 155.8 L1361.6 148.8 L1358.8 148.8Z" fill="#cfcfcf"/>
<g transform="translate(970.00 142.40)"><path d="M-46.22 -51.10 L46.22 -51.10 A68.90 68.90 0 0 1 46.22 51.10 L-46.22 51.10 A68.90 68.90 0 0 1 -46.22 -51.10 Z" fill="#cccccc" stroke="#cccccc" stroke-width="7" stroke-linejoin="round"/><path d="M-45.21 -48.90 L45.21 -48.90 A66.60 66.60 0 0 1 45.21 48.90 L-45.21 48.90 A66.60 66.60 0 0 1 -45.21 -48.90 Z" fill="#c1c1c1" stroke="#c1c1c1" stroke-width="3" stroke-linejoin="round"/><rect x="-19.60" y="54.5" width="9.2" height="6" fill="#303030"/><path d="M-19.60 60.4 L-10.40 60.4 L-12.60 65.5 L-17.40 65.5Z" fill="#303030"/><rect x="-16.50" y="65.3" width="3" height="4" fill="#9a9a9a"/><rect x="10.80" y="54.5" width="9.2" height="6" fill="#a3201b"/><path d="M10.80 60.4 L20.00 60.4 L17.80 65.5 L13.00 65.5Z" fill="#a3201b"/><rect x="13.90" y="65.3" width="3" height="4" fill="#9a9a9a"/><circle cx="0" cy="-35.6" r="8.1" fill="#676767"/><circle cx="-39.5" cy="0" r="9.1" fill="#676767"/><circle cx="39.7" cy="0" r="9.1" fill="#676767"/><path d="M12.74 -4.76 L13.11 -3.63 L20.81 -1.96 L20.90 0.14 L13.37 2.47 L13.11 3.63 L12.74 4.77 L17.99 10.65 L16.83 12.40 L9.37 9.86 L8.47 10.64 L7.50 11.35 L8.29 19.18 L6.33 19.92 L1.78 13.48 L0.59 13.59 L-0.60 13.59 L-4.57 20.40 L-6.59 19.83 L-6.48 11.96 L-7.51 11.34 L-8.47 10.64 L-15.68 13.82 L-16.99 12.17 L-12.27 5.86 L-12.74 4.76 L-13.11 3.63 L-20.81 1.96 L-20.90 -0.14 L-13.37 -2.47 L-13.11 -3.63 L-12.74 -4.77 L-17.99 -10.65 L-16.83 -12.40 L-9.37 -9.86 L-8.47 -10.64 L-7.50 -11.35 L-8.29 -19.18 L-6.33 -19.92 L-1.78 -13.48 L-0.59 -13.59 L0.60 -13.59 L4.57 -20.40 L6.59 -19.83 L6.48 -11.96 L7.51 -11.34 L8.47 -10.64 L15.68 -13.82 L16.99 -12.17 L12.27 -5.86Z" fill="#e9c93f" stroke="#e9c93f" stroke-width="2.8" stroke-linejoin="round"/><circle cx="0.00" cy="0.00" r="8.7" fill="#c9b56d"/><text x="0" y="38.3" text-anchor="middle" font-size="9.2" font-weight="bold" fill="#555555">0 rpm</text></g>
<g transform="translate(966.50 471.40) rotate(180)"><path d="M-46.22 -51.10 L46.22 -51.10 A68.90 68.90 0 0 1 46.22 51.10 L-46.22 51.10 A68.90 68.90 0 0 1 -46.22 -51.10 Z" fill="#cccccc" stroke="#cccccc" stroke-width="7" stroke-linejoin="round"/><path d="M-45.21 -48.90 L45.21 -48.90 A66.60 66.60 0 0 1 45.21 48.90 L-45.21 48.90 A66.60 66.60 0 0 1 -45.21 -48.90 Z" fill="#c1c1c1" stroke="#c1c1c1" stroke-width="3" stroke-linejoin="round"/><rect x="-19.60" y="54.5" width="9.2" height="6" fill="#303030"/><path d="M-19.60 60.4 L-10.40 60.4 L-12.60 65.5 L-17.40 65.5Z" fill="#303030"/><rect x="-16.50" y="65.3" width="3" height="4" fill="#9a9a9a"/><rect x="10.80" y="54.5" width="9.2" height="6" fill="#a3201b"/><path d="M10.80 60.4 L20.00 60.4 L17.80 65.5 L13.00 65.5Z" fill="#a3201b"/><rect x="13.90" y="65.3" width="3" height="4" fill="#9a9a9a"/><circle cx="0" cy="-35.6" r="8.1" fill="#676767"/><circle cx="-39.5" cy="0" r="9.1" fill="#676767"/><circle cx="39.7" cy="0" r="9.1" fill="#676767"/><path d="M13.60 0.00 L13.55 1.19 L20.18 5.45 L19.53 7.45 L11.66 7.00 L11.00 7.99 L10.26 8.93 L13.12 16.27 L11.42 17.50 L5.32 12.52 L4.20 12.93 L3.05 13.25 L1.05 20.87 L-1.05 20.87 L-3.05 13.25 L-4.20 12.93 L-5.32 12.52 L-11.42 17.50 L-13.12 16.27 L-10.26 8.93 L-11.00 7.99 L-11.66 7.00 L-19.53 7.45 L-20.18 5.45 L-13.55 1.19 L-13.60 0.00 L-13.55 -1.19 L-20.18 -5.45 L-19.53 -7.45 L-11.66 -7.00 L-11.00 -7.99 L-10.26 -8.93 L-13.12 -16.27 L-11.42 -17.50 L-5.32 -12.52 L-4.20 -12.93 L-3.05 -13.25 L-1.05 -20.87 L1.05 -20.87 L3.05 -13.25 L4.20 -12.93 L5.32 -12.52 L11.42 -17.50 L13.12 -16.27 L10.26 -8.93 L11.00 -7.99 L11.66 -7.00 L19.53 -7.45 L20.18 -5.45 L13.55 -1.19Z" fill="#e9c93f" stroke="#e9c93f" stroke-width="2.8" stroke-linejoin="round"/><circle cx="0.00" cy="0.00" r="8.7" fill="#c9b56d"/><text x="0" y="38.3" text-anchor="middle" font-size="9.2" font-weight="bold" fill="#555555">9393 rpm</text></g>
<g transform="translate(955.00 610.80)"><path d="M-46.22 -51.10 L46.22 -51.10 A68.90 68.90 0 0 1 46.22 51.10 L-46.22 51.10 A68.90 68.90 0 0 1 -46.22 -51.10 Z" fill="#cccccc" stroke="#cccccc" stroke-width="7" stroke-linejoin="round"/><path d="M-45.21 -48.90 L45.21 -48.90 A66.60 66.60 0 0 1 45.21 48.90 L-45.21 48.90 A66.60 66.60 0 0 1 -45.21 -48.90 Z" fill="#c1c1c1" stroke="#c1c1c1" stroke-width="3" stroke-linejoin="round"/><rect x="-19.60" y="54.5" width="9.2" height="6" fill="#303030"/><path d="M-19.60 60.4 L-10.40 60.4 L-12.60 65.5 L-17.40 65.5Z" fill="#303030"/><rect x="-16.50" y="65.3" width="3" height="4" fill="#9a9a9a"/><rect x="10.80" y="54.5" width="9.2" height="6" fill="#a3201b"/><path d="M10.80 60.4 L20.00 60.4 L17.80 65.5 L13.00 65.5Z" fill="#a3201b"/><rect x="13.90" y="65.3" width="3" height="4" fill="#9a9a9a"/><circle cx="0" cy="-35.6" r="8.1" fill="#676767"/><circle cx="-39.5" cy="0" r="9.1" fill="#676767"/><circle cx="39.7" cy="0" r="9.1" fill="#676767"/><path d="M12.74 -4.76 L13.11 -3.63 L20.81 -1.96 L20.90 0.14 L13.37 2.47 L13.11 3.63 L12.74 4.77 L17.99 10.65 L16.83 12.40 L9.37 9.86 L8.47 10.64 L7.50 11.35 L8.29 19.18 L6.33 19.92 L1.78 13.48 L0.59 13.59 L-0.60 13.59 L-4.57 20.40 L-6.59 19.83 L-6.48 11.96 L-7.51 11.34 L-8.47 10.64 L-15.68 13.82 L-16.99 12.17 L-12.27 5.86 L-12.74 4.76 L-13.11 3.63 L-20.81 1.96 L-20.90 -0.14 L-13.37 -2.47 L-13.11 -3.63 L-12.74 -4.77 L-17.99 -10.65 L-16.83 -12.40 L-9.37 -9.86 L-8.47 -10.64 L-7.50 -11.35 L-8.29 -19.18 L-6.33 -19.92 L-1.78 -13.48 L-0.59 -13.59 L0.60 -13.59 L4.57 -20.40 L6.59 -19.83 L6.48 -11.96 L7.51 -11.34 L8.47 -10.64 L15.68 -13.82 L16.99 -12.17 L12.27 -5.86Z" fill="#e9c93f" stroke="#e9c93f" stroke-width="2.8" stroke-linejoin="round"/><circle cx="0.00" cy="0.00" r="8.7" fill="#c9b56d"/><text x="0" y="38.3" text-anchor="middle" font-size="9.2" font-weight="bold" fill="#555555">0 rpm</text></g>
<g transform="translate(961.00 893.50) rotate(180)"><path d="M-46.22 -51.10 L46.22 -51.10 A68.90 68.90 0 0 1 46.22 51.10 L-46.22 51.10 A68.90 68.90 0 0 1 -46.22 -51.10 Z" fill="#cccccc" stroke="#cccccc" stroke-width="7" stroke-linejoin="round"/><path d="M-45.21 -48.90 L45.21 -48.90 A66.60 66.60 0 0 1 45.21 48.90 L-45.21 48.90 A66.60 66.60 0 0 1 -45.21 -48.90 Z" fill="#c1c1c1" stroke="#c1c1c1" stroke-width="3" stroke-linejoin="round"/><rect x="-19.60" y="54.5" width="9.2" height="6" fill="#303030"/><path d="M-19.60 60.4 L-10.40 60.4 L-12.60 65.5 L-17.40 65.5Z" fill="#303030"/><rect x="-16.50" y="65.3" width="3" height="4" fill="#9a9a9a"/><rect x="10.80" y="54.5" width="9.2" height="6" fill="#a3201b"/><path d="M10.80 60.4 L20.00 60.4 L17.80 65.5 L13.00 65.5Z" fill="#a3201b"/><rect x="13.90" y="65.3" width="3" height="4" fill="#9a9a9a"/><circle cx="0" cy="-35.6" r="8.1" fill="#676767"/><circle cx="-39.5" cy="0" r="9.1" fill="#676767"/><circle cx="39.7" cy="0" r="9.1" fill="#676767"/><path d="M13.60 0.00 L13.55 1.19 L20.18 5.45 L19.53 7.45 L11.66 7.00 L11.00 7.99 L10.26 8.93 L13.12 16.27 L11.42 17.50 L5.32 12.52 L4.20 12.93 L3.05 13.25 L1.05 20.87 L-1.05 20.87 L-3.05 13.25 L-4.20 12.93 L-5.32 12.52 L-11.42 17.50 L-13.12 16.27 L-10.26 8.93 L-11.00 7.99 L-11.66 7.00 L-19.53 7.45 L-20.18 5.45 L-13.55 1.19 L-13.60 0.00 L-13.55 -1.19 L-20.18 -5.45 L-19.53 -7.45 L-11.66 -7.00 L-11.00 -7.99 L-10.26 -8.93 L-13.12 -16.27 L-11.42 -17.50 L-5.32 -12.52 L-4.20 -12.93 L-3.05 -13.25 L-1.05 -20.87 L1.05 -20.87 L3.05 -13.25 L4.20 -12.93 L5.32 -12.52 L11.42 -17.50 L13.12 -16.27 L10.26 -8.93 L11.00 -7.99 L11.66 -7.00 L19.53 -7.45 L20.18 -5.45 L13.55 -1.19Z" fill="#e9c93f" stroke="#e9c93f" stroke-width="2.8" stroke-linejoin="round"/><circle cx="0.00" cy="0.00" r="8.7" fill="#c9b56d"/><text x="0" y="38.3" text-anchor="middle" font-size="9.2" font-weight="bold" fill="#555555">0 rpm</text></g>
<path d="M913.60 306.30 L913.60 303.20 L914.60 302.20 L915.60 302.00 L918.20 298.10 L920.80 302.00 L921.80 302.20 L922.80 303.20 L922.80 306.30Z" fill="#8c8c8c"/><path d="M913.60 338.50 L913.60 341.60 L914.60 342.60 L915.60 342.80 L918.20 346.70 L920.80 342.80 L921.80 342.60 L922.80 341.60 L922.80 338.50Z" fill="#8c8c8c"/><path d="M928.77 306.30 L928.77 303.20 L929.77 302.20 L930.77 302.00 L933.37 298.10 L935.97 302.00 L936.97 302.20 L937.97 303.20 L937.97 306.30Z" fill="#8c8c8c"/><path d="M928.77 338.50 L928.77 341.60 L929.77 342.60 L930.77 342.80 L933.37 346.70 L935.97 342.80 L936.97 342.60 L937.97 341.60 L937.97 338.50Z" fill="#8c8c8c"/><path d="M943.94 306.30 L943.94 303.20 L944.94 302.20 L945.94 302.00 L948.54 298.10 L951.14 302.00 L952.14 302.20 L953.14 303.20 L953.14 306.30Z" fill="#8c8c8c"/><path d="M943.94 338.50 L943.94 341.60 L944.94 342.60 L945.94 342.80 L948.54 346.70 L951.14 342.80 L952.14 342.60 L953.14 341.60 L953.14 338.50Z" fill="#8c8c8c"/><path d="M959.11 306.30 L959.11 303.20 L960.11 302.20 L961.11 302.00 L963.71 298.10 L966.31 302.00 L967.31 302.20 L968.31 303.20 L968.31 306.30Z" fill="#8c8c8c"/><path d="M959.11 338.50 L959.11 341.60 L960.11 342.60 L961.11 342.80 L963.71 346.70 L966.31 342.80 L967.31 342.60 L968.31 341.60 L968.31 338.50Z" fill="#8c8c8c"/><path d="M974.28 306.30 L974.28 303.20 L975.28 302.20 L976.28 302.00 L978.88 298.10 L981.48 302.00 L982.48 302.20 L983.48 303.20 L983.48 306.30Z" fill="#8c8c8c"/><path d="M974.28 338.50 L974.28 341.60 L975.28 342.60 L976.28 342.80 L978.88 346.70 L981.48 342.80 L982.48 342.60 L983.48 341.60 L983.48 338.50Z" fill="#8c8c8c"/><path d="M989.45 306.30 L989.45 303.20 L990.45 302.20 L991.45 302.00 L994.05 298.10 L996.65 302.00 L997.65 302.20 L998.65 303.20 L998.65 306.30Z" fill="#8c8c8c"/><path d="M989.45 338.50 L989.45 341.60 L990.45 342.60 L991.45 342.80 L994.05 346.70 L996.65 342.80 L997.65 342.60 L998.65 341.60 L998.65 338.50Z" fill="#8c8c8c"/><path d="M1004.62 306.30 L1004.62 303.20 L1005.62 302.20 L1006.62 302.00 L1009.22 298.10 L1011.82 302.00 L1012.82 302.20 L1013.82 303.20 L1013.82 306.30Z" fill="#8c8c8c"/><path d="M1004.62 338.50 L1004.62 341.60 L1005.62 342.60 L1006.62 342.80 L1009.22 346.70 L1011.82 342.80 L1012.82 342.60 L1013.82 341.60 L1013.82 338.50Z" fill="#8c8c8c"/><path d="M1019.79 306.30 L1019.79 303.20 L1020.79 302.20 L1021.79 302.00 L1024.39 298.10 L1026.99 302.00 L1027.99 302.20 L1028.99 303.20 L1028.99 306.30Z" fill="#8c8c8c"/><path d="M1019.79 338.50 L1019.79 341.60 L1020.79 342.60 L1021.79 342.80 L1024.39 346.70 L1026.99 342.80 L1027.99 342.60 L1028.99 341.60 L1028.99 338.50Z" fill="#8c8c8c"/><rect x="909.00" y="305.80" width="124.80" height="33.20" rx="2.4" fill="#333333"/><path d="M909.00 317.10 A5.3 5.3 0 0 1 909.00 327.70 Z" fill="#1b1b1b"/><circle cx="918.20" cy="334.00" r="2.2" fill="#e6e6e6"/><g font-size="12" fill="#e4e4e4" stroke="#e4e4e4" stroke-width="0.35"><text x="953.20" y="326.70">L</text><text x="961.50" y="326.70" textLength="27.8" lengthAdjust="spacingAndGlyphs">293D</text></g>
<path d="M899.90 738.50 L899.90 735.40 L900.90 734.40 L901.90 734.20 L904.50 730.30 L907.10 734.20 L908.10 734.40 L909.10 735.40 L909.10 738.50Z" fill="#8c8c8c"/><path d="M899.90 770.30 L899.90 773.40 L900.90 774.40 L901.90 774.60 L904.50 778.50 L907.10 774.60 L908.10 774.40 L909.10 773.40 L909.10 770.30Z" fill="#8c8c8c"/><path d="M915.13 738.50 L915.13 735.40 L916.13 734.40 L917.13 734.20 L919.73 730.30 L922.33 734.20 L923.33 734.40 L924.33 735.40 L924.33 738.50Z" fill="#8c8c8c"/><path d="M915.13 770.30 L915.13 773.40 L916.13 774.40 L917.13 774.60 L919.73 778.50 L922.33 774.60 L923.33 774.40 L924.33 773.40 L924.33 770.30Z" fill="#8c8c8c"/><path d="M930.36 738.50 L930.36 735.40 L931.36 734.40 L932.36 734.20 L934.96 730.30 L937.56 734.20 L938.56 734.40 L939.56 735.40 L939.56 738.50Z" fill="#8c8c8c"/><path d="M930.36 770.30 L930.36 773.40 L931.36 774.40 L932.36 774.60 L934.96 778.50 L937.56 774.60 L938.56 774.40 L939.56 773.40 L939.56 770.30Z" fill="#8c8c8c"/><path d="M945.59 738.50 L945.59 735.40 L946.59 734.40 L947.59 734.20 L950.19 730.30 L952.79 734.20 L953.79 734.40 L954.79 735.40 L954.79 738.50Z" fill="#8c8c8c"/><path d="M945.59 770.30 L945.59 773.40 L946.59 774.40 L947.59 774.60 L950.19 778.50 L952.79 774.60 L953.79 774.40 L954.79 773.40 L954.79 770.30Z" fill="#8c8c8c"/><path d="M960.82 738.50 L960.82 735.40 L961.82 734.40 L962.82 734.20 L965.42 730.30 L968.02 734.20 L969.02 734.40 L970.02 735.40 L970.02 738.50Z" fill="#8c8c8c"/><path d="M960.82 770.30 L960.82 773.40 L961.82 774.40 L962.82 774.60 L965.42 778.50 L968.02 774.60 L969.02 774.40 L970.02 773.40 L970.02 770.30Z" fill="#8c8c8c"/><path d="M976.05 738.50 L976.05 735.40 L977.05 734.40 L978.05 734.20 L980.65 730.30 L983.25 734.20 L984.25 734.40 L985.25 735.40 L985.25 738.50Z" fill="#8c8c8c"/><path d="M976.05 770.30 L976.05 773.40 L977.05 774.40 L978.05 774.60 L980.65 778.50 L983.25 774.60 L984.25 774.40 L985.25 773.40 L985.25 770.30Z" fill="#8c8c8c"/><path d="M991.28 738.50 L991.28 735.40 L992.28 734.40 L993.28 734.20 L995.88 730.30 L998.48 734.20 L999.48 734.40 L1000.48 735.40 L1000.48 738.50Z" fill="#8c8c8c"/><path d="M991.28 770.30 L991.28 773.40 L992.28 774.40 L993.28 774.60 L995.88 778.50 L998.48 774.60 L999.48 774.40 L1000.48 773.40 L1000.48 770.30Z" fill="#8c8c8c"/><path d="M1006.51 738.50 L1006.51 735.40 L1007.51 734.40 L1008.51 734.20 L1011.11 730.30 L1013.71 734.20 L1014.71 734.40 L1015.71 735.40 L1015.71 738.50Z" fill="#8c8c8c"/><path d="M1006.51 770.30 L1006.51 773.40 L1007.51 774.40 L1008.51 774.60 L1011.11 778.50 L1013.71 774.60 L1014.71 774.40 L1015.71 773.40 L1015.71 770.30Z" fill="#8c8c8c"/><rect x="895.90" y="738.00" width="124.30" height="32.80" rx="2.4" fill="#333333"/><path d="M895.90 749.10 A5.3 5.3 0 0 1 895.90 759.70 Z" fill="#1b1b1b"/><circle cx="904.50" cy="765.80" r="2.2" fill="#e6e6e6"/><g font-size="12" fill="#e4e4e4" stroke="#e4e4e4" stroke-width="0.35"><text x="939.85" y="758.70">L</text><text x="948.15" y="758.70" textLength="27.8" lengthAdjust="spacingAndGlyphs">293D</text></g>
<line x1="497.30" y1="832.40" x2="497.30" y2="845.40" stroke="#979797" stroke-width="2.6"/><path d="M507.50 832.40 L512.40 840.90 L512.40 853.00" stroke="#979797" stroke-width="2.6" fill="none" stroke-linejoin="round"/><pattern id="lp13" width="7" height="7" patternUnits="userSpaceOnUse" patternTransform="rotate(20)"><rect width="7" height="7" fill="#861d1b"/><circle cx="1.5" cy="1.5" r="0.65" fill="#4a2224"/><circle cx="5" cy="5" r="0.65" fill="#4a2224"/></pattern><path d="M492.90 824.30 L492.90 810.80 A10 10 0 0 1 512.90 810.80 L512.90 824.30 C513.10 825.80 514.90 825.30 514.90 827.30 L514.90 829.90 C514.90 836.00 492.10 836.00 492.10 829.90 L492.10 827.30 C492.10 825.30 492.70 825.80 492.90 824.30 Z" fill="url(#lp13)"/>
<line x1="564.50" y1="835.00" x2="564.50" y2="848.00" stroke="#979797" stroke-width="2.6"/><path d="M575.40 835.00 L580.00 843.50 L580.00 856.00" stroke="#979797" stroke-width="2.6" fill="none" stroke-linejoin="round"/><pattern id="lp14" width="2.4" height="2.4" patternUnits="userSpaceOnUse"><rect width="2.4" height="2.4" fill="#e8291f"/><circle cx="1.2" cy="1.2" r="0.45" fill="#c84a3a"/></pattern><path d="M560.80 824.90 L560.80 813.40 A10 10 0 0 1 580.80 813.40 L580.80 824.90 C581.00 826.40 582.80 825.90 582.80 827.90 L582.80 832.50 C582.80 838.60 560.00 838.60 560.00 832.50 L560.00 827.90 C560.00 825.90 560.60 826.40 560.80 824.90 Z" fill="url(#lp14)"/><path d="M560.00 826.10 C565.80 829.30 576.80 829.30 582.80 826.10 L582.80 832.50 C582.80 838.60 560.00 838.60 560.00 832.50 Z" fill="#861d1b"/><path d="M563.80 826.10 C567.80 827.90 573.80 827.90 577.80 826.10" stroke="#d9b49a" stroke-width="1.3" fill="none"/>
<line x1="615.80" y1="827.80" x2="615.80" y2="840.80" stroke="#979797" stroke-width="2.6"/><path d="M626.40 827.80 L631.20 836.30 L631.20 848.00" stroke="#979797" stroke-width="2.6" fill="none" stroke-linejoin="round"/><pattern id="lp15" width="7" height="7" patternUnits="userSpaceOnUse" patternTransform="rotate(20)"><rect width="7" height="7" fill="#861d1b"/><circle cx="1.5" cy="1.5" r="0.65" fill="#4a2224"/><circle cx="5" cy="5" r="0.65" fill="#4a2224"/></pattern><path d="M611.80 819.70 L611.80 806.20 A10 10 0 0 1 631.80 806.20 L631.80 819.70 C632.00 821.20 633.80 820.70 633.80 822.70 L633.80 825.30 C633.80 831.40 611.00 831.40 611.00 825.30 L611.00 822.70 C611.00 820.70 611.60 821.20 611.80 819.70 Z" fill="url(#lp15)"/>
<g transform="translate(512.40 874.20) rotate(-90.0)"><line x1="-31.5" y1="0" x2="31.5" y2="0" stroke="#9c9c9c" stroke-width="2.2"/><clipPath id="rc16"><path d="M-22.5 0 C-21.2 -2 -19.2 -7.2 -15.4 -7.2 L-10 -7.2 C-8.2 -7.2 -8.2 -5 -6.2 -5 L6.2 -5 C8.2 -5 8.2 -7.2 10 -7.2 L15.4 -7.2 C19.2 -7.2 21.2 -2 22.5 0 C21.2 2 19.2 7.2 15.4 7.2 L10 7.2 C8.2 7.2 8.2 5 6.2 5 L-6.2 5 C-8.2 5 -8.2 7.2 -10 7.2 L-15.4 7.2 C-19.2 7.2 -21.2 2 -22.5 0Z"/></clipPath><path d="M-22.5 0 C-21.2 -2 -19.2 -7.2 -15.4 -7.2 L-10 -7.2 C-8.2 -7.2 -8.2 -5 -6.2 -5 L6.2 -5 C8.2 -5 8.2 -7.2 10 -7.2 L15.4 -7.2 C19.2 -7.2 21.2 -2 22.5 0 C21.2 2 19.2 7.2 15.4 7.2 L10 7.2 C8.2 7.2 8.2 5 6.2 5 L-6.2 5 C-8.2 5 -8.2 7.2 -10 7.2 L-15.4 7.2 C-19.2 7.2 -21.2 2 -22.5 0Z" fill="#deb577"/><g clip-path="url(#rc16)"><rect x="-15.2" y="-8" width="4.4" height="16" fill="#8e3e1f"/><rect x="-6.9" y="-8" width="3.9" height="16" fill="#161616"/><rect x="0.3" y="-8" width="5.2" height="16" fill="#e8261d"/><rect x="13.1" y="-8" width="1.8" height="16" fill="#7d6a1e"/><rect x="13.1" y="-7.2" width="1.8" height="4.8" fill="#e8d030"/></g></g>
<g transform="translate(580.00 877.60) rotate(-90.0)"><line x1="-31.5" y1="0" x2="31.5" y2="0" stroke="#9c9c9c" stroke-width="2.2"/><clipPath id="rc17"><path d="M-22.5 0 C-21.2 -2 -19.2 -7.2 -15.4 -7.2 L-10 -7.2 C-8.2 -7.2 -8.2 -5 -6.2 -5 L6.2 -5 C8.2 -5 8.2 -7.2 10 -7.2 L15.4 -7.2 C19.2 -7.2 21.2 -2 22.5 0 C21.2 2 19.2 7.2 15.4 7.2 L10 7.2 C8.2 7.2 8.2 5 6.2 5 L-6.2 5 C-8.2 5 -8.2 7.2 -10 7.2 L-15.4 7.2 C-19.2 7.2 -21.2 2 -22.5 0Z"/></clipPath><path d="M-22.5 0 C-21.2 -2 -19.2 -7.2 -15.4 -7.2 L-10 -7.2 C-8.2 -7.2 -8.2 -5 -6.2 -5 L6.2 -5 C8.2 -5 8.2 -7.2 10 -7.2 L15.4 -7.2 C19.2 -7.2 21.2 -2 22.5 0 C21.2 2 19.2 7.2 15.4 7.2 L10 7.2 C8.2 7.2 8.2 5 6.2 5 L-6.2 5 C-8.2 5 -8.2 7.2 -10 7.2 L-15.4 7.2 C-19.2 7.2 -21.2 2 -22.5 0Z" fill="#deb577"/><g clip-path="url(#rc17)"><rect x="-15.2" y="-8" width="4.4" height="16" fill="#8e3e1f"/><rect x="-6.9" y="-8" width="3.9" height="16" fill="#161616"/><rect x="0.3" y="-8" width="5.2" height="16" fill="#e8261d"/><rect x="13.1" y="-8" width="1.8" height="16" fill="#7d6a1e"/><rect x="13.1" y="-7.2" width="1.8" height="4.8" fill="#e8d030"/></g></g>
<g transform="translate(631.20 869.60) rotate(-90.0)"><line x1="-31.5" y1="0" x2="31.5" y2="0" stroke="#9c9c9c" stroke-width="2.2"/><clipPath id="rc18"><path d="M-22.5 0 C-21.2 -2 -19.2 -7.2 -15.4 -7.2 L-10 -7.2 C-8.2 -7.2 -8.2 -5 -6.2 -5 L6.2 -5 C8.2 -5 8.2 -7.2 10 -7.2 L15.4 -7.2 C19.2 -7.2 21.2 -2 22.5 0 C21.2 2 19.2 7.2 15.4 7.2 L10 7.2 C8.2 7.2 8.2 5 6.2 5 L-6.2 5 C-8.2 5 -8.2 7.2 -10 7.2 L-15.4 7.2 C-19.2 7.2 -21.2 2 -22.5 0Z"/></clipPath><path d="M-22.5 0 C-21.2 -2 -19.2 -7.2 -15.4 -7.2 L-10 -7.2 C-8.2 -7.2 -8.2 -5 -6.2 -5 L6.2 -5 C8.2 -5 8.2 -7.2 10 -7.2 L15.4 -7.2 C19.2 -7.2 21.2 -2 22.5 0 C21.2 2 19.2 7.2 15.4 7.2 L10 7.2 C8.2 7.2 8.2 5 6.2 5 L-6.2 5 C-8.2 5 -8.2 7.2 -10 7.2 L-15.4 7.2 C-19.2 7.2 -21.2 2 -22.5 0Z" fill="#deb577"/><g clip-path="url(#rc18)"><rect x="-15.2" y="-8" width="4.4" height="16" fill="#8e3e1f"/><rect x="-6.9" y="-8" width="3.9" height="16" fill="#161616"/><rect x="0.3" y="-8" width="5.2" height="16" fill="#e8261d"/><rect x="13.1" y="-8" width="1.8" height="16" fill="#7d6a1e"/><rect x="13.1" y="-7.2" width="1.8" height="4.8" fill="#e8d030"/></g></g>
<path d="M83.50 191.70 L56.20 191.70 C49.02 191.70 43.20 197.52 43.20 204.70 L43.20 238.80 C43.20 245.98 49.02 251.80 56.20 251.80 L87.50 251.80 M88.80 211.20 L56.10 211.20 C50.69 211.20 46.30 215.59 46.30 221.00 L46.30 221.00 C46.30 226.41 50.69 230.80 56.10 230.80 L88.80 230.80 M88.80 230.80 L52.20 230.80 C46.40 230.80 41.70 235.50 41.70 241.30 L41.70 241.30 C41.70 247.10 46.40 251.80 52.20 251.80 L87.50 251.80 M87.50 251.80 L87.50 324.90 C87.50 332.63 93.77 338.90 101.50 338.90 L448.30 338.90 C456.03 338.90 462.30 345.17 462.30 352.90 L462.30 366.00 M149.80 191.70 L352.00 191.70 C359.73 191.70 365.92 197.97 365.83 205.70 L365.30 250.00 M154.00 211.20 L293.30 211.20 C301.03 211.20 307.30 217.47 307.30 225.20 L307.30 233.35 C307.30 238.13 305.82 245.58 304.00 250.00 L304.00 250.00 M154.00 230.80 L230.60 230.80 C237.23 230.80 242.50 236.17 242.37 242.80 L242.20 251.50 M151.00 251.80 L154.00 251.80 C157.31 251.80 162.68 251.57 165.98 251.29 L177.50 250.30 M177.60 250.50 L177.60 156.00 C177.60 147.72 184.32 141.00 192.60 141.00 L508.40 141.00 C516.68 141.00 523.40 147.72 523.40 156.00 L523.40 366.00 M242.10 251.50 L242.10 175.40 C242.10 167.12 248.82 160.40 257.10 160.40 L492.90 160.40 C501.18 160.40 507.90 167.12 507.90 175.40 L507.90 366.00 M303.90 250.50 L303.90 195.20 C303.90 186.92 310.62 180.20 318.90 180.20 L477.80 180.20 C486.08 180.20 492.80 186.92 492.80 195.20 L492.80 366.00 M365.20 250.50 L365.20 211.50 C365.20 203.22 371.92 196.50 380.20 196.50 L462.50 196.50 C470.78 196.50 477.50 203.22 477.50 211.50 L477.50 366.00 M177.90 295.50 L177.90 686.40 C177.90 694.68 184.62 701.40 192.90 701.40 L517.60 701.40 C525.88 701.40 532.60 694.68 532.60 686.40 L532.60 655.00 M177.90 295.50 L177.90 308.00 C177.90 315.73 184.17 322.00 191.90 322.00 L228.40 322.00 C236.13 322.00 242.40 315.73 242.40 308.00 L242.40 297.00 M242.40 297.00 L242.40 305.20 C242.40 312.93 248.67 319.20 256.40 319.20 L290.10 319.20 C297.83 319.20 304.10 312.93 304.10 305.20 L304.10 295.50 M304.10 295.50 L304.10 302.30 C304.10 310.03 310.37 316.30 318.10 316.30 L351.50 316.30 C359.23 316.30 365.50 310.03 365.50 302.30 L365.50 295.50 M553.60 366.00 L553.60 241.30 C553.60 233.02 560.32 226.30 568.60 226.30 L994.30 226.30 C1002.58 226.30 1009.30 233.02 1009.30 241.30 L1009.30 297.80 M578.20 366.00 L578.20 251.90 C578.20 243.62 584.92 236.90 593.20 236.90 L918.40 236.90 C926.68 236.90 933.40 243.62 933.40 251.90 L933.40 297.80 M593.40 366.00 L593.40 263.80 C593.40 255.52 600.12 248.80 608.40 248.80 L786.90 248.80 C795.18 248.80 801.90 255.52 801.90 263.80 L801.90 358.30 C801.90 366.58 808.62 373.30 816.90 373.30 L994.30 373.30 C1002.58 373.30 1009.30 366.58 1009.30 358.30 L1009.30 347.00 M608.50 366.00 L608.50 280.30 C608.50 272.02 615.22 265.30 623.50 265.30 L773.40 265.30 C781.68 265.30 788.40 272.02 788.40 280.30 L788.40 367.00 C788.40 375.28 795.12 382.00 803.40 382.00 L918.40 382.00 C926.68 382.00 933.40 375.28 933.40 367.00 L933.40 347.00 M623.80 366.00 L623.80 298.40 C623.80 290.12 630.52 283.40 638.80 283.40 L761.30 283.40 C769.58 283.40 776.30 290.12 776.30 298.40 L776.30 676.40 C776.30 684.68 783.02 691.40 791.30 691.40 L981.10 691.40 C989.38 691.40 996.10 698.12 996.10 706.40 L996.10 730.00 M638.80 366.00 L638.80 316.30 C638.80 308.02 645.52 301.30 653.80 301.30 L746.30 301.30 C754.58 301.30 761.30 308.02 761.30 316.30 L761.30 691.60 C761.30 699.88 768.02 706.60 776.30 706.60 L905.00 706.60 C913.28 706.60 920.00 713.32 920.00 721.60 L920.00 730.00 M654.10 366.00 L654.10 327.00 C654.10 318.72 660.82 312.00 669.10 312.00 L737.50 312.00 C745.78 312.00 752.50 318.72 752.50 327.00 L752.50 776.60 C752.50 784.88 759.22 791.60 767.50 791.60 L983.30 791.60 C990.37 791.60 996.10 785.87 996.10 778.80 L996.10 778.80 M669.30 366.00 L669.30 344.80 C669.30 336.52 676.02 329.80 684.30 329.80 L722.60 329.80 C730.88 329.80 737.60 336.52 737.60 344.80 L737.60 789.30 C737.60 797.58 744.32 804.30 752.60 804.30 L905.00 804.30 C913.28 804.30 920.00 797.58 920.00 789.30 L920.00 778.80 M955.00 213.50 L955.00 257.75 C955.00 259.54 953.54 261.00 951.75 261.00 L951.75 261.00 C949.96 261.00 948.50 262.46 948.50 264.25 L948.50 297.80 M985.30 213.50 L985.30 254.15 C985.30 256.55 987.25 258.50 989.65 258.50 L989.65 258.50 C992.05 258.50 994.00 260.45 994.00 262.85 L994.00 297.80 M918.10 297.80 L918.10 294.00 C918.10 289.03 922.13 285.00 927.10 285.00 L1015.40 285.00 C1020.37 285.00 1024.40 289.03 1024.40 294.00 L1024.40 297.80 M918.10 299.60 L873.00 299.60 C865.27 299.60 859.00 305.87 859.00 313.60 L859.00 331.40 C859.00 339.13 865.27 345.40 873.00 345.40 L918.10 345.40 M918.10 346.00 L876.40 346.00 C868.67 346.00 862.40 352.27 862.40 360.00 L862.40 714.50 C862.40 722.23 868.67 728.50 876.40 728.50 L894.59 728.50 C897.58 728.50 902.01 729.84 904.50 731.50 L904.50 731.50 M1024.40 299.60 L1038.20 299.60 C1045.93 299.60 1052.20 305.87 1052.20 313.60 L1052.20 330.60 C1052.20 338.33 1045.93 344.60 1038.20 344.60 L1024.40 344.60 M1280.50 149.00 L1280.50 284.50 C1280.50 292.78 1273.78 299.50 1265.50 299.50 L1024.40 299.50 M1295.80 149.00 L1295.80 253.40 C1295.80 261.68 1289.08 268.40 1280.80 268.40 L994.00 268.40 C985.72 268.40 979.00 275.12 979.00 283.40 L979.00 297.80 M948.50 347.00 L952.00 402.50 M994.00 347.00 L982.10 402.50 M963.70 347.00 L963.70 347.00 C963.70 353.90 969.30 359.50 976.20 359.50 L1056.60 359.50 C1064.33 359.50 1070.60 365.77 1070.60 373.50 L1070.60 687.70 C1070.60 695.43 1064.33 701.70 1056.60 701.70 L964.30 701.70 C956.57 701.70 950.30 707.97 950.30 715.70 L950.30 730.00 M531.20 655.00 L531.20 717.20 C531.20 724.93 537.47 731.20 545.20 731.20 L904.50 731.20 M904.50 731.20 L867.30 731.20 C860.12 731.20 854.30 737.02 854.30 744.20 L854.30 763.40 C854.30 770.58 860.12 776.40 867.30 776.40 L904.50 776.40 M904.50 778.50 L864.80 778.50 C857.62 778.50 851.80 784.32 851.80 791.50 L851.80 939.50 C851.80 946.68 857.62 952.49 864.80 952.49 L1034.90 952.31 C1042.08 952.31 1047.90 946.48 1047.90 939.30 L1047.90 800.30 C1047.90 793.12 1042.08 787.30 1034.90 787.30 L1019.60 787.30 C1014.91 787.30 1011.10 783.49 1011.10 778.80 L1011.10 778.80 M1011.10 731.00 L1036.20 731.00 C1043.38 731.00 1049.20 736.82 1049.20 744.00 L1049.20 772.90 C1049.20 780.08 1043.38 785.90 1036.20 785.90 L1018.20 785.90 C1014.28 785.90 1011.10 782.72 1011.10 778.80 L1011.10 778.80 M940.00 681.50 L935.20 730.00 M970.30 681.50 L980.80 730.00 M935.20 778.80 L945.80 823.50 M980.80 778.80 L976.00 823.50 M563.10 655.00 L563.10 677.20 C563.10 684.93 569.37 691.20 577.10 691.20 L708.30 691.20 C716.03 691.20 722.30 697.47 722.30 705.20 L722.30 803.40 C722.30 811.13 728.57 817.40 736.30 817.40 L936.00 817.40 C943.73 817.40 950.00 811.13 950.00 803.40 L950.00 778.80 M563.10 655.00 L563.10 677.20 C563.10 684.93 569.37 691.20 577.10 691.20 L580.80 691.20 C588.53 691.20 594.80 697.47 594.80 705.20 L594.80 825.40 C594.80 833.13 601.07 839.40 608.80 839.40 L615.80 839.40 M497.30 846.20 L497.30 853.80 C497.30 859.88 502.22 864.80 508.30 864.80 L604.80 864.80 C610.88 864.80 615.80 859.88 615.80 853.80 L615.80 841.00 M564.50 849.30 L564.50 858.70 C564.50 864.22 568.98 868.70 574.50 868.70 L595.78 868.70 C599.77 868.70 605.87 867.20 609.40 865.35 L609.40 865.35 C612.93 863.50 615.80 858.77 615.80 854.78 L615.80 845.00 M512.40 907.20 L512.40 940.40 C512.40 948.13 518.67 954.40 526.40 954.40 L670.40 954.40 C678.13 954.40 684.40 948.13 684.40 940.40 L684.40 655.00 M580.00 910.20 L580.00 920.20 C580.00 927.93 586.27 934.20 594.00 934.20 L655.30 934.20 C663.03 934.20 669.30 927.93 669.30 920.20 L669.30 655.00 M631.20 900.50 L644.43 903.38 C649.83 904.55 654.20 901.02 654.20 895.50 L654.20 655.00" fill="none" stroke="#2f9e30" stroke-width="4.3" stroke-linecap="square" stroke-linejoin="round"/>
<path d="M83.50 191.70 L56.20 191.70 C49.02 191.70 43.20 197.52 43.20 204.70 L43.20 238.80 C43.20 245.98 49.02 251.80 56.20 251.80 L87.50 251.80 M88.80 211.20 L56.10 211.20 C50.69 211.20 46.30 215.59 46.30 221.00 L46.30 221.00 C46.30 226.41 50.69 230.80 56.10 230.80 L88.80 230.80 M88.80 230.80 L52.20 230.80 C46.40 230.80 41.70 235.50 41.70 241.30 L41.70 241.30 C41.70 247.10 46.40 251.80 52.20 251.80 L87.50 251.80 M87.50 251.80 L87.50 324.90 C87.50 332.63 93.77 338.90 101.50 338.90 L448.30 338.90 C456.03 338.90 462.30 345.17 462.30 352.90 L462.30 366.00 M149.80 191.70 L352.00 191.70 C359.73 191.70 365.92 197.97 365.83 205.70 L365.30 250.00 M154.00 211.20 L293.30 211.20 C301.03 211.20 307.30 217.47 307.30 225.20 L307.30 233.35 C307.30 238.13 305.82 245.58 304.00 250.00 L304.00 250.00 M154.00 230.80 L230.60 230.80 C237.23 230.80 242.50 236.17 242.37 242.80 L242.20 251.50 M151.00 251.80 L154.00 251.80 C157.31 251.80 162.68 251.57 165.98 251.29 L177.50 250.30 M177.60 250.50 L177.60 156.00 C177.60 147.72 184.32 141.00 192.60 141.00 L508.40 141.00 C516.68 141.00 523.40 147.72 523.40 156.00 L523.40 366.00 M242.10 251.50 L242.10 175.40 C242.10 167.12 248.82 160.40 257.10 160.40 L492.90 160.40 C501.18 160.40 507.90 167.12 507.90 175.40 L507.90 366.00 M303.90 250.50 L303.90 195.20 C303.90 186.92 310.62 180.20 318.90 180.20 L477.80 180.20 C486.08 180.20 492.80 186.92 492.80 195.20 L492.80 366.00 M365.20 250.50 L365.20 211.50 C365.20 203.22 371.92 196.50 380.20 196.50 L462.50 196.50 C470.78 196.50 477.50 203.22 477.50 211.50 L477.50 366.00 M177.90 295.50 L177.90 686.40 C177.90 694.68 184.62 701.40 192.90 701.40 L517.60 701.40 C525.88 701.40 532.60 694.68 532.60 686.40 L532.60 655.00 M177.90 295.50 L177.90 308.00 C177.90 315.73 184.17 322.00 191.90 322.00 L228.40 322.00 C236.13 322.00 242.40 315.73 242.40 308.00 L242.40 297.00 M242.40 297.00 L242.40 305.20 C242.40 312.93 248.67 319.20 256.40 319.20 L290.10 319.20 C297.83 319.20 304.10 312.93 304.10 305.20 L304.10 295.50 M304.10 295.50 L304.10 302.30 C304.10 310.03 310.37 316.30 318.10 316.30 L351.50 316.30 C359.23 316.30 365.50 310.03 365.50 302.30 L365.50 295.50 M553.60 366.00 L553.60 241.30 C553.60 233.02 560.32 226.30 568.60 226.30 L994.30 226.30 C1002.58 226.30 1009.30 233.02 1009.30 241.30 L1009.30 297.80 M578.20 366.00 L578.20 251.90 C578.20 243.62 584.92 236.90 593.20 236.90 L918.40 236.90 C926.68 236.90 933.40 243.62 933.40 251.90 L933.40 297.80 M593.40 366.00 L593.40 263.80 C593.40 255.52 600.12 248.80 608.40 248.80 L786.90 248.80 C795.18 248.80 801.90 255.52 801.90 263.80 L801.90 358.30 C801.90 366.58 808.62 373.30 816.90 373.30 L994.30 373.30 C1002.58 373.30 1009.30 366.58 1009.30 358.30 L1009.30 347.00 M608.50 366.00 L608.50 280.30 C608.50 272.02 615.22 265.30 623.50 265.30 L773.40 265.30 C781.68 265.30 788.40 272.02 788.40 280.30 L788.40 367.00 C788.40 375.28 795.12 382.00 803.40 382.00 L918.40 382.00 C926.68 382.00 933.40 375.28 933.40 367.00 L933.40 347.00 M623.80 366.00 L623.80 298.40 C623.80 290.12 630.52 283.40 638.80 283.40 L761.30 283.40 C769.58 283.40 776.30 290.12 776.30 298.40 L776.30 676.40 C776.30 684.68 783.02 691.40 791.30 691.40 L981.10 691.40 C989.38 691.40 996.10 698.12 996.10 706.40 L996.10 730.00 M638.80 366.00 L638.80 316.30 C638.80 308.02 645.52 301.30 653.80 301.30 L746.30 301.30 C754.58 301.30 761.30 308.02 761.30 316.30 L761.30 691.60 C761.30 699.88 768.02 706.60 776.30 706.60 L905.00 706.60 C913.28 706.60 920.00 713.32 920.00 721.60 L920.00 730.00 M654.10 366.00 L654.10 327.00 C654.10 318.72 660.82 312.00 669.10 312.00 L737.50 312.00 C745.78 312.00 752.50 318.72 752.50 327.00 L752.50 776.60 C752.50 784.88 759.22 791.60 767.50 791.60 L983.30 791.60 C990.37 791.60 996.10 785.87 996.10 778.80 L996.10 778.80 M669.30 366.00 L669.30 344.80 C669.30 336.52 676.02 329.80 684.30 329.80 L722.60 329.80 C730.88 329.80 737.60 336.52 737.60 344.80 L737.60 789.30 C737.60 797.58 744.32 804.30 752.60 804.30 L905.00 804.30 C913.28 804.30 920.00 797.58 920.00 789.30 L920.00 778.80 M955.00 213.50 L955.00 257.75 C955.00 259.54 953.54 261.00 951.75 261.00 L951.75 261.00 C949.96 261.00 948.50 262.46 948.50 264.25 L948.50 297.80 M985.30 213.50 L985.30 254.15 C985.30 256.55 987.25 258.50 989.65 258.50 L989.65 258.50 C992.05 258.50 994.00 260.45 994.00 262.85 L994.00 297.80 M918.10 297.80 L918.10 294.00 C918.10 289.03 922.13 285.00 927.10 285.00 L1015.40 285.00 C1020.37 285.00 1024.40 289.03 1024.40 294.00 L1024.40 297.80 M918.10 299.60 L873.00 299.60 C865.27 299.60 859.00 305.87 859.00 313.60 L859.00 331.40 C859.00 339.13 865.27 345.40 873.00 345.40 L918.10 345.40 M918.10 346.00 L876.40 346.00 C868.67 346.00 862.40 352.27 862.40 360.00 L862.40 714.50 C862.40 722.23 868.67 728.50 876.40 728.50 L894.59 728.50 C897.58 728.50 902.01 729.84 904.50 731.50 L904.50 731.50 M1024.40 299.60 L1038.20 299.60 C1045.93 299.60 1052.20 305.87 1052.20 313.60 L1052.20 330.60 C1052.20 338.33 1045.93 344.60 1038.20 344.60 L1024.40 344.60 M1280.50 149.00 L1280.50 284.50 C1280.50 292.78 1273.78 299.50 1265.50 299.50 L1024.40 299.50 M1295.80 149.00 L1295.80 253.40 C1295.80 261.68 1289.08 268.40 1280.80 268.40 L994.00 268.40 C985.72 268.40 979.00 275.12 979.00 283.40 L979.00 297.80 M948.50 347.00 L952.00 402.50 M994.00 347.00 L982.10 402.50 M963.70 347.00 L963.70 347.00 C963.70 353.90 969.30 359.50 976.20 359.50 L1056.60 359.50 C1064.33 359.50 1070.60 365.77 1070.60 373.50 L1070.60 687.70 C1070.60 695.43 1064.33 701.70 1056.60 701.70 L964.30 701.70 C956.57 701.70 950.30 707.97 950.30 715.70 L950.30 730.00 M531.20 655.00 L531.20 717.20 C531.20 724.93 537.47 731.20 545.20 731.20 L904.50 731.20 M904.50 731.20 L867.30 731.20 C860.12 731.20 854.30 737.02 854.30 744.20 L854.30 763.40 C854.30 770.58 860.12 776.40 867.30 776.40 L904.50 776.40 M904.50 778.50 L864.80 778.50 C857.62 778.50 851.80 784.32 851.80 791.50 L851.80 939.50 C851.80 946.68 857.62 952.49 864.80 952.49 L1034.90 952.31 C1042.08 952.31 1047.90 946.48 1047.90 939.30 L1047.90 800.30 C1047.90 793.12 1042.08 787.30 1034.90 787.30 L1019.60 787.30 C1014.91 787.30 1011.10 783.49 1011.10 778.80 L1011.10 778.80 M1011.10 731.00 L1036.20 731.00 C1043.38 731.00 1049.20 736.82 1049.20 744.00 L1049.20 772.90 C1049.20 780.08 1043.38 785.90 1036.20 785.90 L1018.20 785.90 C1014.28 785.90 1011.10 782.72 1011.10 778.80 L1011.10 778.80 M940.00 681.50 L935.20 730.00 M970.30 681.50 L980.80 730.00 M935.20 778.80 L945.80 823.50 M980.80 778.80 L976.00 823.50 M563.10 655.00 L563.10 677.20 C563.10 684.93 569.37 691.20 577.10 691.20 L708.30 691.20 C716.03 691.20 722.30 697.47 722.30 705.20 L722.30 803.40 C722.30 811.13 728.57 817.40 736.30 817.40 L936.00 817.40 C943.73 817.40 950.00 811.13 950.00 803.40 L950.00 778.80 M563.10 655.00 L563.10 677.20 C563.10 684.93 569.37 691.20 577.10 691.20 L580.80 691.20 C588.53 691.20 594.80 697.47 594.80 705.20 L594.80 825.40 C594.80 833.13 601.07 839.40 608.80 839.40 L615.80 839.40 M497.30 846.20 L497.30 853.80 C497.30 859.88 502.22 864.80 508.30 864.80 L604.80 864.80 C610.88 864.80 615.80 859.88 615.80 853.80 L615.80 841.00 M564.50 849.30 L564.50 858.70 C564.50 864.22 568.98 868.70 574.50 868.70 L595.78 868.70 C599.77 868.70 605.87 867.20 609.40 865.35 L609.40 865.35 C612.93 863.50 615.80 858.77 615.80 854.78 L615.80 845.00 M512.40 907.20 L512.40 940.40 C512.40 948.13 518.67 954.40 526.40 954.40 L670.40 954.40 C678.13 954.40 684.40 948.13 684.40 940.40 L684.40 655.00 M580.00 910.20 L580.00 920.20 C580.00 927.93 586.27 934.20 594.00 934.20 L655.30 934.20 C663.03 934.20 669.30 927.93 669.30 920.20 L669.30 655.00 M631.20 900.50 L644.43 903.38 C649.83 904.55 654.20 901.02 654.20 895.50 L654.20 655.00" fill="none" stroke="#41ba46" stroke-width="2.7" stroke-linecap="square" stroke-linejoin="round"/>
<g transform="translate(174.90 254.80)"><rect x="1.40" y="-5.6" width="2.6" height="47.2" fill="#9b9b9b"/><rect x="32.00" y="-5.6" width="2.6" height="47.2" fill="#9b9b9b"/><rect x="0.2" y="0.2" width="35.8" height="35.6" rx="1.4" fill="#c3c3c3" stroke="#ababab" stroke-width="0.7"/><circle cx="4.9" cy="4.9" r="3.6" fill="#4c4c4c"/><circle cx="4.9" cy="31.1" r="3.6" fill="#4c4c4c"/><circle cx="31.1" cy="4.9" r="3.6" fill="#4c4c4c"/><circle cx="31.1" cy="31.1" r="3.6" fill="#4c4c4c"/><circle cx="18" cy="18.9" r="10.3" fill="#707070"/><circle cx="18" cy="17.7" r="10.3" fill="#333333"/></g>
<g transform="translate(239.40 256.20)"><rect x="1.40" y="-5.6" width="2.6" height="47.2" fill="#9b9b9b"/><rect x="32.00" y="-5.6" width="2.6" height="47.2" fill="#9b9b9b"/><rect x="0.2" y="0.2" width="35.8" height="35.6" rx="1.4" fill="#c3c3c3" stroke="#ababab" stroke-width="0.7"/><circle cx="4.9" cy="4.9" r="3.6" fill="#4c4c4c"/><circle cx="4.9" cy="31.1" r="3.6" fill="#4c4c4c"/><circle cx="31.1" cy="4.9" r="3.6" fill="#4c4c4c"/><circle cx="31.1" cy="31.1" r="3.6" fill="#4c4c4c"/><circle cx="18" cy="18.9" r="10.3" fill="#707070"/><circle cx="18" cy="17.7" r="10.3" fill="#333333"/></g>
<g transform="translate(301.10 254.80)"><rect x="1.40" y="-5.6" width="2.6" height="47.2" fill="#9b9b9b"/><rect x="32.00" y="-5.6" width="2.6" height="47.2" fill="#9b9b9b"/><rect x="0.2" y="0.2" width="35.8" height="35.6" rx="1.4" fill="#c3c3c3" stroke="#ababab" stroke-width="0.7"/><circle cx="4.9" cy="4.9" r="3.6" fill="#4c4c4c"/><circle cx="4.9" cy="31.1" r="3.6" fill="#4c4c4c"/><circle cx="31.1" cy="4.9" r="3.6" fill="#4c4c4c"/><circle cx="31.1" cy="31.1" r="3.6" fill="#4c4c4c"/><circle cx="18" cy="18.9" r="10.3" fill="#707070"/><circle cx="18" cy="17.7" r="10.3" fill="#333333"/></g>
<g transform="translate(362.60 254.80)"><rect x="1.40" y="-5.6" width="2.6" height="47.2" fill="#9b9b9b"/><rect x="32.00" y="-5.6" width="2.6" height="47.2" fill="#9b9b9b"/><rect x="0.2" y="0.2" width="35.8" height="35.6" rx="1.4" fill="#c3c3c3" stroke="#ababab" stroke-width="0.7"/><circle cx="4.9" cy="4.9" r="3.6" fill="#4c4c4c"/><circle cx="4.9" cy="31.1" r="3.6" fill="#4c4c4c"/><circle cx="31.1" cy="4.9" r="3.6" fill="#4c4c4c"/><circle cx="31.1" cy="31.1" r="3.6" fill="#4c4c4c"/><circle cx="18" cy="18.9" r="10.3" fill="#707070"/><circle cx="18" cy="17.7" r="10.3" fill="#333333"/></g>
<g transform="translate(512.40 874.20) rotate(-90.0)"><clipPath id="rc25"><path d="M-22.5 0 C-21.2 -2 -19.2 -7.2 -15.4 -7.2 L-10 -7.2 C-8.2 -7.2 -8.2 -5 -6.2 -5 L6.2 -5 C8.2 -5 8.2 -7.2 10 -7.2 L15.4 -7.2 C19.2 -7.2 21.2 -2 22.5 0 C21.2 2 19.2 7.2 15.4 7.2 L10 7.2 C8.2 7.2 8.2 5 6.2 5 L-6.2 5 C-8.2 5 -8.2 7.2 -10 7.2 L-15.4 7.2 C-19.2 7.2 -21.2 2 -22.5 0Z"/></clipPath><path d="M-22.5 0 C-21.2 -2 -19.2 -7.2 -15.4 -7.2 L-10 -7.2 C-8.2 -7.2 -8.2 -5 -6.2 -5 L6.2 -5 C8.2 -5 8.2 -7.2 10 -7.2 L15.4 -7.2 C19.2 -7.2 21.2 -2 22.5 0 C21.2 2 19.2 7.2 15.4 7.2 L10 7.2 C8.2 7.2 8.2 5 6.2 5 L-6.2 5 C-8.2 5 -8.2 7.2 -10 7.2 L-15.4 7.2 C-19.2 7.2 -21.2 2 -22.5 0Z" fill="#deb577"/><g clip-path="url(#rc25)"><rect x="-15.2" y="-8" width="4.4" height="16" fill="#8e3e1f"/><rect x="-6.9" y="-8" width="3.9" height="16" fill="#161616"/><rect x="0.3" y="-8" width="5.2" height="16" fill="#e8261d"/><rect x="13.1" y="-8" width="1.8" height="16" fill="#7d6a1e"/><rect x="13.1" y="-7.2" width="1.8" height="4.8" fill="#e8d030"/></g></g>
<g transform="translate(580.00 877.60) rotate(-90.0)"><clipPath id="rc26"><path d="M-22.5 0 C-21.2 -2 -19.2 -7.2 -15.4 -7.2 L-10 -7.2 C-8.2 -7.2 -8.2 -5 -6.2 -5 L6.2 -5 C8.2 -5 8.2 -7.2 10 -7.2 L15.4 -7.2 C19.2 -7.2 21.2 -2 22.5 0 C21.2 2 19.2 7.2 15.4 7.2 L10 7.2 C8.2 7.2 8.2 5 6.2 5 L-6.2 5 C-8.2 5 -8.2 7.2 -10 7.2 L-15.4 7.2 C-19.2 7.2 -21.2 2 -22.5 0Z"/></clipPath><path d="M-22.5 0 C-21.2 -2 -19.2 -7.2 -15.4 -7.2 L-10 -7.2 C-8.2 -7.2 -8.2 -5 -6.2 -5 L6.2 -5 C8.2 -5 8.2 -7.2 10 -7.2 L15.4 -7.2 C19.2 -7.2 21.2 -2 22.5 0 C21.2 2 19.2 7.2 15.4 7.2 L10 7.2 C8.2 7.2 8.2 5 6.2 5 L-6.2 5 C-8.2 5 -8.2 7.2 -10 7.2 L-15.4 7.2 C-19.2 7.2 -21.2 2 -22.5 0Z" fill="#deb577"/><g clip-path="url(#rc26)"><rect x="-15.2" y="-8" width="4.4" height="16" fill="#8e3e1f"/><rect x="-6.9" y="-8" width="3.9" height="16" fill="#161616"/><rect x="0.3" y="-8" width="5.2" height="16" fill="#e8261d"/><rect x="13.1" y="-8" width="1.8" height="16" fill="#7d6a1e"/><rect x="13.1" y="-7.2" width="1.8" height="4.8" fill="#e8d030"/></g></g>
<g transform="translate(631.20 869.60) rotate(-90.0)"><clipPath id="rc27"><path d="M-22.5 0 C-21.2 -2 -19.2 -7.2 -15.4 -7.2 L-10 -7.2 C-8.2 -7.2 -8.2 -5 -6.2 -5 L6.2 -5 C8.2 -5 8.2 -7.2 10 -7.2 L15.4 -7.2 C19.2 -7.2 21.2 -2 22.5 0 C21.2 2 19.2 7.2 15.4 7.2 L10 7.2 C8.2 7.2 8.2 5 6.2 5 L-6.2 5 C-8.2 5 -8.2 7.2 -10 7.2 L-15.4 7.2 C-19.2 7.2 -21.2 2 -22.5 0Z"/></clipPath><path d="M-22.5 0 C-21.2 -2 -19.2 -7.2 -15.4 -7.2 L-10 -7.2 C-8.2 -7.2 -8.2 -5 -6.2 -5 L6.2 -5 C8.2 -5 8.2 -7.2 10 -7.2 L15.4 -7.2 C19.2 -7.2 21.2 -2 22.5 0 C21.2 2 19.2 7.2 15.4 7.2 L10 7.2 C8.2 7.2 8.2 5 6.2 5 L-6.2 5 C-8.2 5 -8.2 7.2 -10 7.2 L-15.4 7.2 C-19.2 7.2 -21.2 2 -22.5 0Z" fill="#deb577"/><g clip-path="url(#rc27)"><rect x="-15.2" y="-8" width="4.4" height="16" fill="#8e3e1f"/><rect x="-6.9" y="-8" width="3.9" height="16" fill="#161616"/><rect x="0.3" y="-8" width="5.2" height="16" fill="#e8261d"/><rect x="13.1" y="-8" width="1.8" height="16" fill="#7d6a1e"/><rect x="13.1" y="-7.2" width="1.8" height="4.8" fill="#e8d030"/></g></g>
<g opacity="0.36"><g fill="none" stroke="#bcbcbd" stroke-width="8.2" stroke-linecap="round"><path d="M654 935 H790"/><circle cx="781.6" cy="927.4" r="11.7"/><path d="M754.0 934 L756.2 918.5"/><path d="M741.5 934 L743.7 918.5"/><path d="M729.0 934 L731.2 918.5"/><path d="M716.5 934 L718.7 918.5"/><circle cx="686.6" cy="924.4" r="7.4" stroke-width="7.4"/><path d="M657.3 900 V926.8 A12.8 12.8 0 1 1 634.7 918.6"/></g><g fill="#bcbcbd"><circle cx="708.4" cy="909.5" r="4.4"/><circle cx="720.6" cy="909.5" r="4.4"/><circle cx="678.0" cy="898.9" r="4.4"/><circle cx="690.3" cy="898.9" r="4.4"/><text x="712.5" y="966.2" text-anchor="middle" font-size="25.4" font-weight="bold" textLength="169.6" lengthAdjust="spacingAndGlyphs">mostaql.com</text></g></g>
</svg>
</body></html>
